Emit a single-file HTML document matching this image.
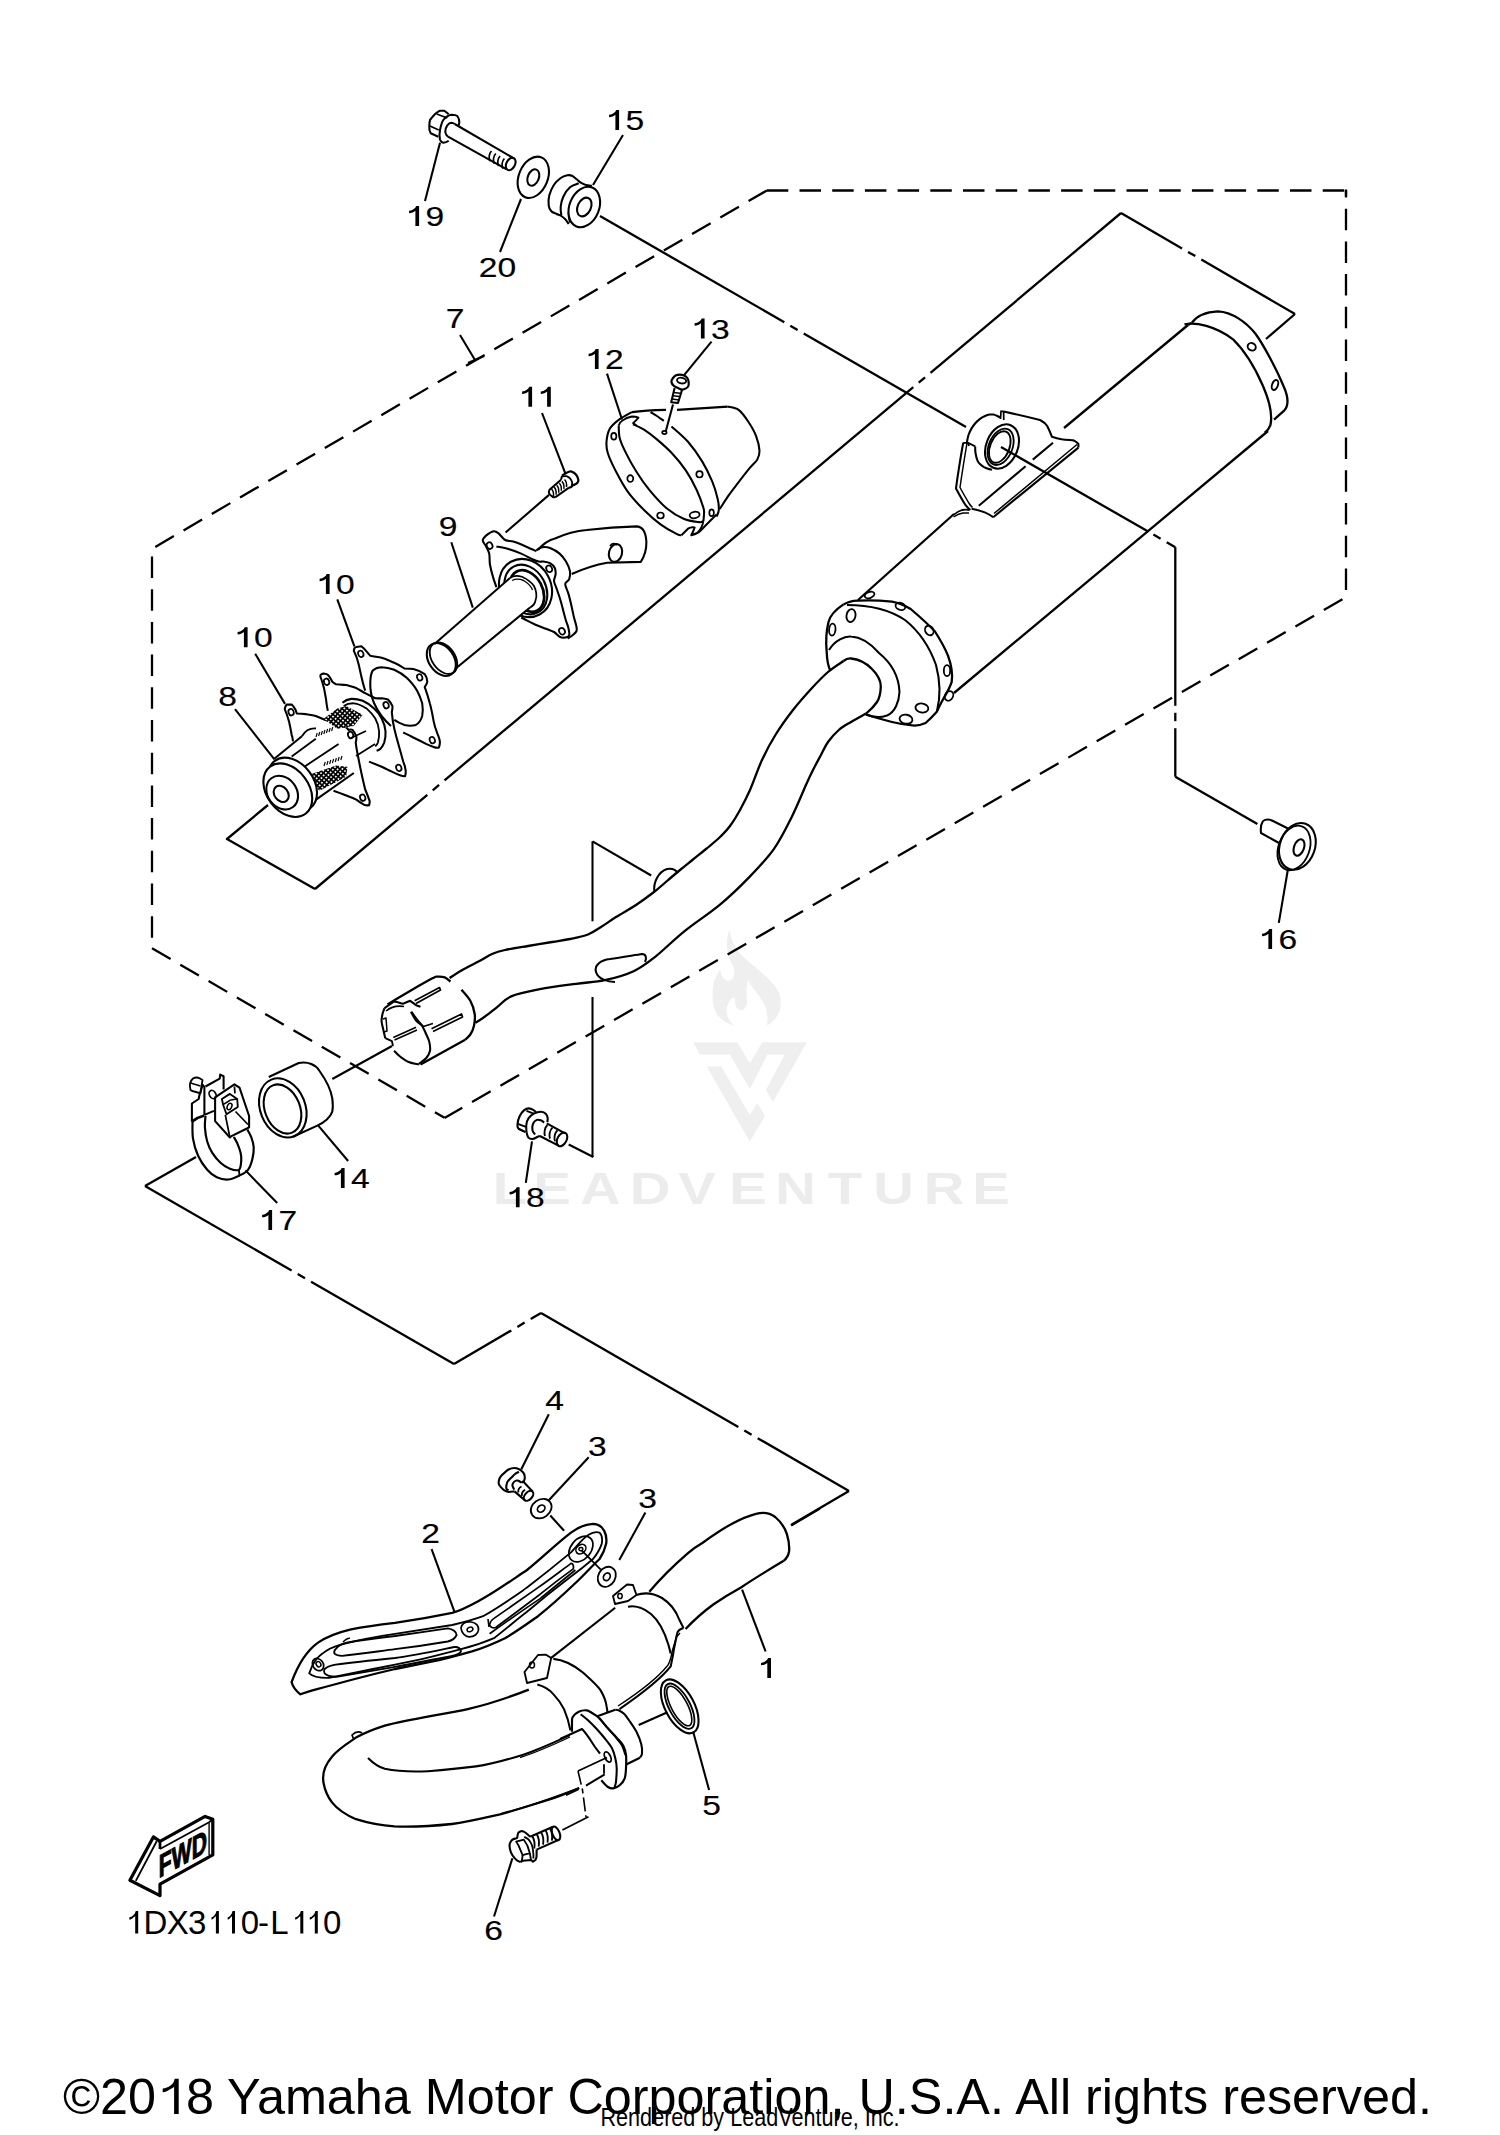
<!DOCTYPE html>
<html><head><meta charset="utf-8"><style>
html,body{margin:0;padding:0;background:#fff;}
svg{display:block;}
</style></head><body>
<svg width="1500" height="2135" viewBox="0 0 1500 2135">
<defs><pattern id="mesh" width="3.4" height="3.4" patternUnits="userSpaceOnUse" patternTransform="rotate(40)"><rect width="3.4" height="3.4" fill="#000"/><rect x="0.9" y="0.9" width="1.7" height="1.7" fill="#fff"/></pattern></defs>
<rect width="1500" height="2135" fill="#fff"/>
<g font-family="Liberation Sans, sans-serif" stroke="none">
<text transform="translate(510.0 1203.8) scale(1.28 1)" text-anchor="middle" font-size="44" font-weight="bold" fill="#ececec">L</text>
<text transform="translate(552.0 1203.8) scale(1.28 1)" text-anchor="middle" font-size="44" font-weight="bold" fill="#ececec">E</text>
<text transform="translate(600.2 1203.8) scale(1.28 1)" text-anchor="middle" font-size="44" font-weight="bold" fill="#ececec">A</text>
<text transform="translate(650.1 1203.8) scale(1.28 1)" text-anchor="middle" font-size="44" font-weight="bold" fill="#ececec">D</text>
<text transform="translate(697.0 1203.8) scale(1.28 1)" text-anchor="middle" font-size="44" font-weight="bold" fill="#ececec">V</text>
<text transform="translate(748.1 1203.8) scale(1.28 1)" text-anchor="middle" font-size="44" font-weight="bold" fill="#ececec">E</text>
<text transform="translate(795.6 1203.8) scale(1.28 1)" text-anchor="middle" font-size="44" font-weight="bold" fill="#ececec">N</text>
<text transform="translate(844.9 1203.8) scale(1.28 1)" text-anchor="middle" font-size="44" font-weight="bold" fill="#ececec">T</text>
<text transform="translate(893.6 1203.8) scale(1.28 1)" text-anchor="middle" font-size="44" font-weight="bold" fill="#ececec">U</text>
<text transform="translate(944.0 1203.8) scale(1.28 1)" text-anchor="middle" font-size="44" font-weight="bold" fill="#ececec">R</text>
<text transform="translate(991.1 1203.8) scale(1.28 1)" text-anchor="middle" font-size="44" font-weight="bold" fill="#ececec">E</text>
<path d="M693.2,1042.2 L737.4,1042.2 L749.8,1063.2 L762.2,1042.2 L806.8,1042.2 L772.9,1102 L765.9,1090.1 L784.8,1054.6 L767.5,1054.6 L749.8,1089.1 L729.8,1054.6 L699.7,1054.6 Z" fill="#efefef"/>
<path d="M706.7,1066.5 L721.2,1066.5 L749.8,1114.9 L757.3,1103.1 L764.8,1116 L749.8,1141.8 Z" fill="#efefef"/>
<path d="M729.3,930.2 C731,936 732,941 734.2,944.8 C736.5,949 739,952.5 741.7,955.5 C746.5,960 751.5,964 756.8,968.5 C762,973 767.5,977.5 771.8,982.5 C776.5,988 780,993 780.5,998.6 C781,1003.5 780.8,1007.5 779.4,1011.5 C778,1015 776,1017.8 774,1020.2 C771.5,1022.5 769,1024.5 766.5,1026.1 C767.3,1023 767.8,1020 767.5,1016.9 C767.2,1013.3 766.5,1009.7 765.4,1006.2 C763.5,1002.5 761.3,998.8 758.9,995.4 C756,991.8 753,988.2 750.3,984.6 C749.5,983 748.8,981.4 748.2,979.8 C747.2,983 746.7,986.5 746.5,990 C746.4,994.3 746.8,998.6 747.1,1002.9 C746.5,1005.5 745.3,1007.8 743.8,1009.4 C742,1010.2 740.2,1010.2 738.5,1009.4 C736.8,1008 735.7,1006 735.2,1004 C734.8,1001.5 734.6,999 734.7,996.5 C732.8,997.5 731.1,999 729.8,1000.8 C727.8,1003.8 726.8,1007 726.6,1010.5 C726.6,1013.5 727.4,1016.4 728.8,1019.1 C730.3,1021.5 732.2,1023.6 734.2,1025.5 C731.2,1024.7 728.3,1023.6 725.5,1022.3 C722.2,1020.2 719.3,1017.7 716.9,1014.8 C714.6,1010.2 713,1005 712.6,999.7 C712.3,994 712.8,988.2 713.7,982.5 C715.2,977.8 717.4,973.4 720.2,969.5 C720.6,972.2 721.3,974.8 722.3,977.1 C724,979.2 725.8,980.6 727.7,980.8 C729.8,980.8 731.6,979.8 733.1,978.2 C734.2,975.5 734.6,972.5 734.2,969.5 C733.2,966 731.6,962.8 729.8,959.8 C728.5,956.3 727.7,952.7 727.2,949.1 C726.9,945.5 726.9,941.9 727.2,938.3 C727.7,935.5 728.4,932.8 729.3,930.2 Z" fill="#efefef"/>
</g>
<g fill="none" stroke="#000" stroke-linecap="butt" stroke-linejoin="round">
<polyline points="766.8,190.5 1346,190.5" stroke-width="2.30" stroke-dasharray="21.5 11.2" stroke-dashoffset="0"/>
<polyline points="1346,190.5 1346,597.5" stroke-width="2.30" stroke-dasharray="21.5 11.2" stroke-dashoffset="14.5"/>
<line x1="1346" y1="189.5" x2="1346" y2="196" stroke-width="2.30"/>
<polyline points="1346,597.2 444.5,1118" stroke-width="2.30" stroke-dasharray="21.5 11.29" stroke-dashoffset="28.7"/>
<polyline points="152,948.3 444.5,1117.8" stroke-width="2.30" stroke-dasharray="21.5 11.2" stroke-dashoffset="0"/>
<polyline points="152,548.8 152,948.3" stroke-width="2.30" stroke-dasharray="21.5 11.2" stroke-dashoffset="25"/>
<polyline points="152,548.8 766.8,190.5" stroke-width="2.30" stroke-dasharray="21.5 11.2" stroke-dashoffset="28.9"/>
<polyline points="268,805 227,839 315,889" stroke-width="2.30"/>
<line x1="315.0" y1="889.0" x2="427.3" y2="794.8" stroke-width="2.30"/>
<line x1="432.7" y1="790.3" x2="439.1" y2="784.9" stroke-width="2.30"/>
<line x1="444.5" y1="780.4" x2="913.3" y2="387.2" stroke-width="2.30"/>
<line x1="918.7" y1="382.7" x2="925.1" y2="377.3" stroke-width="2.30"/>
<line x1="930.5" y1="372.8" x2="1121.0" y2="213.0" stroke-width="2.30"/>
<line x1="1121.0" y1="213.0" x2="1182.0" y2="248.4" stroke-width="2.30"/>
<line x1="1188.0" y1="251.9" x2="1195.3" y2="256.1" stroke-width="2.30"/>
<line x1="1201.3" y1="259.6" x2="1295.0" y2="314.0" stroke-width="2.30"/>
<line x1="1295" y1="314" x2="1266" y2="339" stroke-width="2.30"/>
<line x1="460" y1="335" x2="475" y2="360" stroke-width="2.07"/>
<line x1="468" y1="363" x2="484" y2="356" stroke-width="2.07"/>
<line x1="196" y1="1157" x2="145" y2="1186" stroke-width="2.30"/>
<line x1="145.0" y1="1186.0" x2="291.6" y2="1270.5" stroke-width="2.30"/>
<line x1="297.7" y1="1274.0" x2="305.0" y2="1278.2" stroke-width="2.30"/>
<line x1="311.1" y1="1281.7" x2="454.0" y2="1364.0" stroke-width="2.30"/>
<line x1="454.0" y1="1364.0" x2="511.3" y2="1330.4" stroke-width="2.30"/>
<line x1="517.4" y1="1326.9" x2="524.6" y2="1322.6" stroke-width="2.30"/>
<line x1="530.7" y1="1319.1" x2="541.0" y2="1313.0" stroke-width="2.30"/>
<line x1="541.0" y1="1313.0" x2="738.3" y2="1427.0" stroke-width="2.30"/>
<line x1="744.3" y1="1430.5" x2="751.6" y2="1434.7" stroke-width="2.30"/>
<line x1="757.7" y1="1438.2" x2="849.0" y2="1491.0" stroke-width="2.30"/>
<line x1="849" y1="1491" x2="791" y2="1525" stroke-width="2.30"/>
<line x1="1188" y1="325" x2="1064" y2="428" stroke-width="2.30"/>
<line x1="954" y1="514" x2="858" y2="600" stroke-width="2.30"/>
<line x1="1268" y1="431" x2="954" y2="693" stroke-width="2.30"/>
<path d="M1184.5,324.4 C1196,322 1215,326 1233,339.3 C1246,352 1256,370 1263,386 C1269,400 1273,414 1270.4,425.2 C1269,429 1267,431 1264.8,432.7" stroke-width="2.30" fill="none"/>
<path d="M1192,322.5 C1196,317 1205,312 1218,311.3 C1232,312 1246,322 1255.5,333.7 C1263,344 1276,368 1283.5,386 C1288,396 1289,405 1284.4,410.3 L1274,419.6" stroke-width="2.30" fill="none"/>
<path d="M1188,325 C1190,323.5 1192,322.8 1192,322.5" stroke-width="2.30" fill="none"/>
<ellipse cx="1251.7" cy="346.8" rx="4.2" ry="3.6" transform="rotate(30 1251.7 346.8)" stroke-width="1.95" fill="none"/>
<ellipse cx="1275" cy="385" rx="2.9" ry="5.2" transform="rotate(20 1275 385)" stroke-width="1.95" fill="none"/>
<path d="M843.5,604.4 C850,601 855,600.5 858.4,600.7 C870,600 880,600.5 892,601.6 C900,603 906,606 910.7,609 C920,617 928,624 935,631.5 C941,641 945,648 948,655.7 C951,664 953,673 951.7,681.9 C949,690 945,696 942.4,700.5 C940,705 938,709 936.8,711.7 C932,717 929,720 925.6,723 C921,725 918,725.7 914.4,725.7 C905,725 898,723.5 892,722 C880,719 872,716.5 865.9,714.5" stroke-width="2.30" fill="none"/>
<path d="M843.5,604.4 C835,610 830,616 828.5,622 C826,632 826,645 826.7,652 C827,660 828,666 830.4,670.7" stroke-width="2.30" fill="none"/>
<path d="M847,605 C870,605 890,610 905,620 C920,632 930,648 936,665 C940,680 941,695 937,711" stroke-width="2.07" fill="none"/>
<path d="M829,650 C835,640 845,636 851,636.5 C862,637 872,645 879,653 C895,666 899,680 899.5,692 C899,702 895,712 887,715.5 C880,718 872,717 865.9,714.5" stroke-width="2.07" fill="none"/>
<ellipse cx="869.6" cy="595" rx="5" ry="3" transform="rotate(-20 869.6 595)" stroke-width="1.84" fill="none"/>
<ellipse cx="900.4" cy="606.3" rx="5" ry="3.5" transform="rotate(20 900.4 606.3)" stroke-width="1.84" fill="none"/>
<ellipse cx="929.3" cy="630.5" rx="4" ry="5" transform="rotate(-30 929.3 630.5)" stroke-width="1.84" fill="none"/>
<ellipse cx="947" cy="670.7" rx="3.2" ry="5.5" transform="rotate(0 947 670.7)" stroke-width="1.84" fill="none"/>
<ellipse cx="949" cy="695.9" rx="4" ry="5" transform="rotate(30 949 695.9)" stroke-width="1.84" fill="none"/>
<ellipse cx="921.9" cy="708" rx="6.5" ry="4.5" transform="rotate(10 921.9 708)" stroke-width="1.84" fill="none"/>
<ellipse cx="906" cy="719.2" rx="6.5" ry="4.5" transform="rotate(10 906 719.2)" stroke-width="1.84" fill="none"/>
<ellipse cx="851" cy="615.6" rx="4.5" ry="6.5" transform="rotate(10 851 615.6)" stroke-width="1.84" fill="none"/>
<ellipse cx="832.3" cy="629.6" rx="3.2" ry="6" transform="rotate(5 832.3 629.6)" stroke-width="1.84" fill="none"/>
<path d="M966.8,442.8 C967.1,441.5 967.7,437.4 968.5,435.0 C969.3,432.6 970.4,430.4 971.6,428.4 C972.8,426.4 974.1,424.6 975.5,423.0 C976.9,421.4 978.4,420.0 980.0,418.8 C981.6,417.6 983.4,416.7 985.0,416.0 C986.6,415.3 988.2,414.8 989.6,414.6 C991.0,414.4 992.3,414.4 993.5,414.6 C994.7,414.8 995.7,415.3 996.8,415.8 C997.9,416.3 999.5,417.2 1000.0,417.5" stroke-width="2.07" fill="none"/>
<path d="M975.2,446.4 C975.2,447.5 975.1,450.6 975.5,453.0 C975.9,455.4 976.8,458.9 977.6,460.8 C978.4,462.7 979.5,463.5 980.5,464.5 C981.5,465.5 982.4,466.1 983.6,466.8 C984.9,467.5 986.6,468.3 988.0,468.8 C989.4,469.3 991.3,469.6 992.0,469.8" stroke-width="2.07" fill="none"/>
<line x1="968" y1="442.8" x2="975.2" y2="446.4" stroke-width="1.84"/>
<ellipse cx="1002" cy="446.5" rx="15.8" ry="23" transform="rotate(22 1002 446.5)" stroke-width="2.07" fill="none"/>
<ellipse cx="1000.6" cy="446.8" rx="11.8" ry="19" transform="rotate(22 1000.6 446.8)" stroke-width="1.84" fill="none"/>
<ellipse cx="999.8" cy="447" rx="9.6" ry="16.5" transform="rotate(22 999.8 447)" stroke-width="1.84" fill="none"/>
<path d="M1000.5,419 L1001,411.2 L1003.6,411.5 L1003.8,420" stroke-width="1.72" fill="none"/>
<path d="M1003.6,411.5 C1015,414 1028,417 1040,420 C1043,421.5 1045.5,423.5 1047.2,426 C1049,429.5 1050.5,433 1052,436.8 C1055,437.8 1058,438.6 1061.6,439.2 C1065.5,439.7 1069.5,440 1073.6,440.4 C1075.5,441.3 1077.2,442.5 1078.4,444 L1078.4,447.6" stroke-width="2.07" fill="none"/>
<line x1="1078.4" y1="447.6" x2="993.2" y2="517.2" stroke-width="2.07"/>
<line x1="1077" y1="444.5" x2="994" y2="513.5" stroke-width="1.49"/>
<path d="M963.2,442.8 C960.5,458 958,473 956,488.4 C959,494 962,499.5 965.6,505.2 C967,507 968.5,508.5 970.4,510" stroke-width="2.07" fill="none"/>
<path d="M967,443 C964.5,458 962,473 960,487.5 C963,493 966,498.5 969.5,504 C970.5,505.5 971.5,506.5 972.5,507.5" stroke-width="1.49" fill="none"/>
<path d="M963.2,442.8 L968,442.8 L969,446" stroke-width="1.84" fill="none"/>
<path d="M993.2,517.2 C990,515 987.5,513.5 984.8,512.4 C980,510.5 976,509.5 971.6,508.8" stroke-width="2.07" fill="none"/>
<path d="M953.6,514.8 C956,512.5 959,511 962,510 C964.5,509.6 967,509.6 969.2,510" stroke-width="1.84" fill="none"/>
<path d="M953.6,517 C956.5,515 959.5,513.5 963,513 L969,513" stroke-width="1.38" fill="none"/>
<line x1="1032.8" y1="459.6" x2="1053" y2="442.8" stroke-width="2.07"/>
<line x1="978.8" y1="505.8" x2="1025.6" y2="466.2" stroke-width="2.07"/>
<line x1="600.0" y1="216.0" x2="784.3" y2="322.2" stroke-width="2.30"/>
<line x1="790.3" y1="325.7" x2="797.6" y2="329.9" stroke-width="2.30"/>
<line x1="803.7" y1="333.4" x2="966.0" y2="427.0" stroke-width="2.30"/>
<line x1="1001.0" y1="447.0" x2="1147.3" y2="531.1" stroke-width="2.30"/>
<line x1="1153.4" y1="534.6" x2="1160.6" y2="538.8" stroke-width="2.30"/>
<line x1="1166.7" y1="542.3" x2="1175.3" y2="547.2" stroke-width="2.30"/>
<line x1="1175.3" y1="547.2" x2="1175.3" y2="705.8" stroke-width="2.30"/>
<line x1="1175.3" y1="712.8" x2="1175.3" y2="721.2" stroke-width="2.30"/>
<line x1="1175.3" y1="728.2" x2="1175.3" y2="776.7" stroke-width="2.30"/>
<line x1="1175.3" y1="776.7" x2="1257.4" y2="823.9" stroke-width="2.30"/>
<path d="M843.5,661 C846,659 848.5,658.3 851,658.5 C858,659 866,663 872,669 C878,675 881,681 880.8,687 C880.5,694 879,699 877,702 C873,708 869,711 865.9,713.6" stroke-width="2.30" fill="none"/>
<path d="M843.5,661.0 C840.9,662.8 833.2,667.5 828.0,672.0 C822.8,676.5 817.8,681.7 812.0,688.0 C806.2,694.3 799.0,702.3 793.0,710.0 C787.0,717.7 781.2,725.7 776.0,734.0 C770.8,742.3 766.3,750.7 762.0,760.0 C757.7,769.3 753.7,781.7 750.0,790.0 C746.3,798.3 743.3,804.0 740.0,810.0 C736.7,816.0 733.5,821.3 730.0,826.0 C726.5,830.7 723.0,834.2 719.0,838.0 C715.0,841.8 710.3,845.4 706.0,849.0 C701.7,852.6 697.3,856.0 693.0,859.5 C688.7,863.0 684.3,866.4 680.0,870.0 C675.7,873.6 671.3,877.3 667.0,881.0 C662.7,884.7 659.2,888.0 654.0,892.0 C648.8,896.0 642.3,900.8 636.0,905.0 C629.7,909.2 621.8,913.3 616.0,917.0 C610.2,920.7 605.7,924.1 601.0,927.0 C596.3,929.9 593.2,932.5 588.0,934.5 C582.8,936.5 576.0,937.8 570.0,939.0 C564.0,940.2 559.0,940.8 552.0,942.0 C545.0,943.2 535.8,944.7 528.0,946.0 C520.2,947.3 511.0,948.7 505.0,950.0 C499.0,951.3 496.2,952.2 492.0,954.0 C487.8,955.8 484.2,958.5 479.5,961.0 C474.8,963.5 469.0,966.2 464.0,969.0 C459.0,971.8 452.0,976.5 449.6,978.0" stroke-width="2.30" fill="none"/>
<path d="M865.9,713.6 C863.4,715.0 855.5,719.3 851.0,722.0 C846.5,724.7 842.6,726.7 838.8,730.0 C835.0,733.3 831.0,737.8 828.0,742.0 C825.0,746.2 823.3,750.5 820.8,755.2 C818.3,759.9 815.4,765.2 813.0,770.0 C810.6,774.8 809.9,776.3 806.4,784.0 C802.9,791.7 797.4,805.6 792.0,816.4 C786.6,827.2 781.2,838.6 774.0,848.8 C766.8,859.0 757.8,868.3 748.8,877.6 C739.8,886.9 730.8,895.6 720.0,904.6 C709.2,913.6 694.8,922.9 684.0,931.6 C673.2,940.3 663.6,950.2 655.2,956.8 C646.8,963.4 642.0,967.3 633.6,971.2 C625.2,975.1 614.4,978.1 604.8,980.2 C595.2,982.3 586.8,982.3 576.0,983.8 C565.2,985.3 550.8,987.1 540.0,989.2 C529.2,991.3 518.5,993.3 511.2,996.4 C503.9,999.5 500.9,1004.4 496.5,1007.7 C492.1,1011.1 488.5,1014.0 485.0,1016.5 C481.5,1019.0 477.1,1021.8 475.5,1022.8" stroke-width="2.30" fill="none"/>
<path d="M654.4,892 C653,883 658,872 667,869 C672,868 676,870 678,873" stroke-width="2.07" fill="none"/>
<path d="M615,982 C608,982 598,979 596,972 C594,965 601,960 610,959 C622,957 636,955 642,954 C646,954 647,958 645,962" stroke-width="2.07" fill="none"/>
<line x1="592.5" y1="841.3" x2="592.5" y2="921.3" stroke-width="2.07"/>
<line x1="592.5" y1="841.3" x2="651.2" y2="875.5" stroke-width="2.07"/>
<line x1="592.5" y1="997" x2="592.5" y2="1157" stroke-width="2.07"/>
<line x1="568.7" y1="1144.5" x2="593.3" y2="1157" stroke-width="2.07"/>
<path d="M387.5,1004.5 C391.2,1002.2 402.4,995.4 410.0,991.0 C417.6,986.6 428.3,980.5 432.9,978.1 C437.4,975.7 435.3,976.7 437.3,976.6 C439.3,976.5 442.5,976.5 444.7,977.3 C446.9,978.1 449.5,980.8 450.5,981.5" stroke-width="2.30" fill="none"/>
<path d="M461.5,989.8 C463.0,991.6 468.1,996.8 470.3,1000.8 C472.5,1004.8 474.1,1009.9 474.7,1014.0 C475.3,1018.1 474.7,1022.3 474.0,1025.7 C473.3,1029.1 471.8,1032.2 470.3,1034.5 C468.8,1036.8 466.1,1038.8 465.2,1039.7" stroke-width="2.30" fill="none"/>
<line x1="465.2" y1="1039.7" x2="420.5" y2="1064.6" stroke-width="2.30"/>
<path d="M384.5,1008.1 C384.2,1009.1 383.0,1011.8 382.5,1014.0 C382.0,1016.2 381.5,1018.8 381.6,1021.3 C381.7,1023.8 382.5,1025.9 383.1,1028.7 C383.7,1031.5 384.9,1036.6 385.3,1038.2" stroke-width="2.07" fill="none"/>
<path d="M385.3,1038.2 L391.9,1041.1 L393,1046" stroke-width="1.84" fill="none"/>
<path d="M394.1,1050.7 C395.0,1051.5 396.9,1054.0 399.2,1055.8 C401.5,1057.6 404.7,1060.2 408.0,1061.7 C411.3,1063.2 417.2,1064.1 419.0,1064.6" stroke-width="2.07" fill="none"/>
<path d="M410.9,1011.8 C411.8,1013.3 414.3,1018.3 416.1,1020.6 C417.9,1022.9 420.2,1023.4 421.9,1025.7 C423.6,1028.0 425.1,1031.8 426.3,1034.5 C427.5,1037.2 428.7,1039.2 429.3,1041.9 C429.9,1044.6 430.5,1048.0 430.0,1050.7 C429.5,1053.4 428.1,1055.8 426.3,1058.0 C424.5,1060.2 420.2,1062.9 419.0,1063.9" stroke-width="2.07" fill="none"/>
<path d="M384.5,1008.1 L394.1,1001.5 C398,1002 400,1003 402.9,1003.7 L410.2,1000.8 L416.1,1005.2 L420.5,1006.7" stroke-width="2.07" fill="none"/>
<path d="M386,1011 C392,1006 398,1005.5 404,1006.5" stroke-width="1.61" fill="none"/>
<path d="M414.6,1000.8 L439.5,987.6 L440.5,990 L416,1003.5" stroke-width="1.72" fill="none"/>
<path d="M431.5,1028.7 L461.5,1014 L462.5,1017 L433,1031.5" stroke-width="1.72" fill="none"/>
<path d="M393.3,1037.5 L416.1,1027.2 M394.5,1040 L417,1030" stroke-width="1.61" fill="none"/>
<path d="M411.7,1011.8 C415,1017 419,1022 423.4,1026.5 L432.9,1023.5" stroke-width="1.72" fill="none"/>
<path d="M383,1019 L386,1018 L387,1031 L384,1032" stroke-width="1.49" fill="none"/>
<line x1="392" y1="1046" x2="332.3" y2="1079" stroke-width="2.07"/>
<path d="M438.3,136.7 L430.7,133.3 C429.5,131 429,129 429.3,126.7 C429.3,124 429.5,122 430,120 C432,117.5 434,115 436,113.3 C437.5,112 439,111 440,110.7 L444,110.7 C445.8,111.8 447.3,113 448.7,114.3" stroke-width="2.07" fill="none"/>
<line x1="436.7" y1="114" x2="447.3" y2="118" stroke-width="1.84"/>
<line x1="430" y1="126" x2="438.7" y2="130" stroke-width="1.84"/>
<path d="M440,140 C441,141.8 442,142.6 443.3,142.7 C445.5,142.6 447.3,141.8 448.7,140.7" stroke-width="2.07" fill="none"/>
<path d="M440,140 C439,136 439.5,132.5 440,130 C441,125 442,122 443.3,120 C444.8,117.8 446.3,116.5 448,116 C449.5,115 450.8,114.7 452,114.7 C454.5,114.8 456.3,115.2 457.3,116 C458.8,118 459.3,120 459.3,122 C459.3,123.3 459,124.5 458.7,125.3" stroke-width="2.07" fill="none"/>
<path d="M448,136.7 C446.5,135.5 445.5,134 445.3,132 C445.3,129.5 446,127 447.3,125.3 C448.6,123.7 450,122.8 451.3,122.7 C452.5,122.7 453.8,123.2 454.7,124" stroke-width="2.07" fill="none"/>
<line x1="454.7" y1="124" x2="514" y2="158.5" stroke-width="2.07"/>
<line x1="448" y1="136.7" x2="506.7" y2="169.3" stroke-width="2.07"/>
<ellipse cx="510.7" cy="164" rx="4.3" ry="6.6" transform="rotate(28 510.7 164)" stroke-width="2.07" fill="none"/>
<path d="M491.5,151.0 C488.9,153.5 488.5,158.5 490.0,161.0" stroke-width="1.72" fill="none"/>
<path d="M495.8,153.5 C493.2,156.0 492.8,161.0 494.3,163.5" stroke-width="1.72" fill="none"/>
<path d="M500.1,156.0 C497.5,158.5 497.1,163.5 498.6,166.0" stroke-width="1.72" fill="none"/>
<path d="M504.4,158.5 C501.79999999999995,161.0 501.4,166.0 502.9,168.5" stroke-width="1.72" fill="none"/>
<ellipse cx="533.3" cy="177.3" rx="14.5" ry="21.5" transform="rotate(22 533.3 177.3)" stroke-width="2.07" fill="none"/>
<ellipse cx="533.3" cy="177.5" rx="5.5" ry="8.5" transform="rotate(22 533.3 177.5)" stroke-width="2.07" fill="none"/>
<path d="M568.7,224.0 C568.1,223.2 566.5,220.6 565.3,219.3 C564.1,218.0 562.7,216.9 561.3,216.0 C559.9,215.1 558.4,214.8 556.7,214.0 C555.0,213.2 552.6,212.8 551.3,211.3 C550.0,209.9 549.0,208.0 548.7,205.3 C548.4,202.6 548.4,198.7 549.3,195.3 C550.2,191.9 552.1,187.6 554.0,184.7 C555.9,181.8 558.5,179.6 560.7,178.0 C562.9,176.4 565.4,175.7 567.3,175.3 C569.2,174.9 570.4,175.0 572.0,175.7 C573.6,176.4 575.2,178.1 576.7,179.3 C578.2,180.5 579.3,181.8 580.7,182.7 C582.1,183.6 583.4,184.1 585.3,184.7 C587.2,185.2 590.9,185.8 592.0,186.0" stroke-width="2.07" fill="none"/>
<path d="M578.7,183.3 C577.2,184.0 572.6,185.1 570.0,187.3 C567.4,189.5 564.8,193.5 563.3,196.7 C561.8,199.9 561.0,203.6 560.7,206.7 C560.4,209.8 561.2,213.9 561.3,215.3" stroke-width="2.07" fill="none"/>
<path d="M588.0,187.3 C586.3,188.2 580.8,190.2 578.0,192.7 C575.2,195.1 572.8,198.6 571.3,202.0 C569.8,205.4 568.9,209.9 568.7,213.3 C568.5,216.8 569.8,221.1 570.0,222.7" stroke-width="2.07" fill="none"/>
<ellipse cx="584.3" cy="207" rx="14.8" ry="21" transform="rotate(22 584.3 207)" stroke-width="2.07" fill="#fff"/>
<ellipse cx="584.3" cy="207" rx="6.6" ry="9.8" transform="rotate(25 584.3 207)" stroke-width="2.07" fill="none"/>
<line x1="440" y1="142.7" x2="425" y2="201" stroke-width="2.07"/>
<line x1="521" y1="199" x2="500" y2="252" stroke-width="2.07"/>
<line x1="623" y1="135" x2="593" y2="185" stroke-width="2.07"/>
<path d="M631.9,412.1 C645,410.5 655,410.2 666,409.9 M677,409.9 L727.6,406.6" stroke-width="2.07" fill="none"/>
<path d="M727.6,406.6 C729.4,407.2 735.1,407.3 738.6,409.9 C742.1,412.5 745.6,417.6 748.5,422.0 C751.4,426.4 754.4,431.5 756.2,436.3 C758.0,441.1 759.3,446.8 759.5,450.6 C759.7,454.5 758.9,456.5 757.3,459.4 C755.6,462.3 752.9,464.2 749.6,468.2 C746.3,472.2 741.2,478.8 737.5,483.6 C733.8,488.4 730.5,492.6 727.6,496.8 C724.7,501.0 721.2,506.9 719.9,508.9" stroke-width="2.07" fill="none"/>
<path d="M631.9,412.1 C629.7,413.4 622.4,417.1 618.7,419.8 C615.0,422.6 611.9,425.1 609.9,428.6 C607.9,432.1 607.0,436.7 606.6,440.7 C606.2,444.7 606.2,447.9 607.7,452.8 C609.2,457.8 612.1,464.0 615.4,470.4 C618.7,476.8 622.7,484.7 627.5,491.3 C632.3,497.9 638.5,504.5 644.0,510.0 C649.5,515.5 655.0,520.3 660.5,524.3 C666.0,528.3 673.5,532.4 677.0,534.2 C680.5,536.0 680.7,535.1 681.4,535.3" stroke-width="2.07" fill="none"/>
<path d="M681.4,535.3 L688,528.7 C690,527.5 692.5,527 694.6,527.6 C694,530 692.5,533 691.3,535.3 C694,534.5 696.5,533.5 699,532 C703,528.5 706.5,524.5 710,521 C712.3,518.8 714.5,516.5 716.6,514.4" stroke-width="2.07" fill="none"/>
<path d="M618.7,425.3 C618.9,427.5 618.5,433.7 619.8,438.5 C621.1,443.3 623.6,448.4 626.4,453.9 C629.1,459.4 632.4,465.4 636.3,471.5 C640.1,477.6 644.5,484.1 649.5,490.2 C654.5,496.2 660.3,503.0 666.0,507.8 C671.7,512.6 678.1,516.4 683.6,518.8 C689.1,521.2 695.7,521.7 699.0,522.1 C702.3,522.5 702.7,521.2 703.4,521.0" stroke-width="2.07" fill="none"/>
<path d="M703.4,521.0 C703.5,519.8 704.0,516.2 704.0,514.0 C704.0,511.8 704.6,511.8 703.4,507.8 C702.2,503.8 699.7,496.4 696.8,490.2 C693.9,484.0 690.0,476.6 685.8,470.4 C681.6,464.2 676.3,457.9 671.5,452.8 C666.7,447.7 661.8,443.5 657.2,439.6 C652.6,435.8 648.0,432.3 644.0,429.7 C640.0,427.1 634.8,425.1 633.0,424.2" stroke-width="2.07" fill="none"/>
<path d="M618.7,425.3 C620,422 621,421.5 622,420.9 C625,418.5 628.5,417 631.9,416.5 C634,416.5 636.5,416.8 638.5,417.6 C637,419.5 635,421.5 633,423.1 L636.3,425.3" stroke-width="1.84" fill="none"/>
<path d="M650.6,412.1 C651.7,412.8 654.8,414.5 657.0,416.0 C659.2,417.5 662.7,420.1 663.8,420.9" stroke-width="2.07" fill="none"/>
<path d="M671.5,426.4 C674.2,429.0 682.9,435.9 688.0,441.8 C693.1,447.7 698.3,455.0 702.3,461.6 C706.3,468.2 709.6,475.2 712.2,481.4 C714.8,487.6 716.6,494.2 717.7,499.0 C718.8,503.8 719.0,507.1 718.8,510.0 C718.6,512.9 717.0,515.5 716.6,516.6" stroke-width="2.07" fill="none"/>
<path d="M703.4,521 C703,523.5 702.2,525.7 701.2,527.6 C700.3,529.3 699.2,530.8 697.9,532" stroke-width="1.84" fill="none"/>
<ellipse cx="613.8" cy="436.3" rx="2.6" ry="3.4" transform="rotate(0 613.8 436.3)" stroke-width="1.72" fill="none"/>
<ellipse cx="630.3" cy="478.6" rx="3" ry="3.4" transform="rotate(0 630.3 478.6)" stroke-width="1.72" fill="none"/>
<ellipse cx="660.5" cy="515.5" rx="3.3" ry="3" transform="rotate(0 660.5 515.5)" stroke-width="1.72" fill="none"/>
<ellipse cx="694.6" cy="515" rx="5" ry="3.2" transform="rotate(-10 694.6 515)" stroke-width="1.72" fill="none"/>
<ellipse cx="711.6" cy="512.7" rx="2.3" ry="3.4" transform="rotate(0 711.6 512.7)" stroke-width="1.72" fill="none"/>
<ellipse cx="699.5" cy="474.3" rx="3.2" ry="3.2" transform="rotate(0 699.5 474.3)" stroke-width="1.72" fill="none"/>
<ellipse cx="664.4" cy="432.5" rx="2.2" ry="1.6" transform="rotate(0 664.4 432.5)" stroke-width="1.72" fill="none"/>
<path d="M671.4,382.0 C671.2,380.7 672.2,379.1 673.0,378.0 C673.8,376.9 674.8,375.8 676.0,375.2 C677.2,374.6 678.7,374.6 680.0,374.6 C681.3,374.6 682.8,374.9 684.0,375.4 C685.2,375.9 686.2,376.6 687.0,377.6 C687.8,378.6 688.4,380.2 688.6,381.6 C688.8,383.0 688.8,384.9 688.4,386.0 C688.0,387.1 687.1,387.8 686.0,388.4 C684.9,389.0 683.3,389.7 682.0,389.6 C680.7,389.5 679.3,388.6 678.0,388.0 C676.7,387.4 675.1,387.0 674.0,386.0 C672.9,385.0 671.6,383.3 671.4,382.0 Z" stroke-width="2.18" fill="none"/>
<ellipse cx="681.6" cy="380.6" rx="4.6" ry="2.8" transform="rotate(10 681.6 380.6)" stroke-width="1.84" fill="none"/>
<path d="M674.6,388 L671.2,402.2 L678,403 L682,390" stroke-width="2.07" fill="none"/>
<line x1="673.5" y1="392.5" x2="680.2" y2="393.3" stroke-width="1.49"/>
<line x1="672.9" y1="395.8" x2="679.6" y2="396.6" stroke-width="1.49"/>
<line x1="672.3" y1="399.1" x2="679.0" y2="399.90000000000003" stroke-width="1.49"/>
<line x1="711.5" y1="341.6" x2="683.7" y2="375.7" stroke-width="2.07"/>
<line x1="673" y1="404.5" x2="665.6" y2="432" stroke-width="2.07"/>
<line x1="607" y1="373.6" x2="622" y2="419.5" stroke-width="2.07"/>
<path d="M562.1,475.7 C562.8,475.2 564.9,473.7 566.3,473.0 C567.7,472.3 569.2,471.5 570.3,471.4 C571.4,471.3 572.1,471.7 573.0,472.2 C573.9,472.7 574.9,473.4 575.7,474.3 C576.5,475.2 577.4,476.7 577.8,477.8 C578.2,478.9 578.5,480.0 578.3,481.0 C578.1,482.0 577.4,483.0 576.5,483.7 C575.6,484.4 574.0,484.7 573.0,485.3 C572.0,485.9 571.3,487.0 570.6,487.4 C569.9,487.8 569.3,487.6 569.0,487.7" stroke-width="2.18" fill="none"/>
<path d="M562.6,476.5 C563.2,476.4 565.2,476.0 566.3,476.2 C567.4,476.4 568.2,476.9 569.0,477.5 C569.8,478.1 570.6,479.0 571.1,479.9 C571.6,480.8 572.1,482.1 572.2,483.1 C572.3,484.1 571.8,485.4 571.7,485.8" stroke-width="1.84" fill="none"/>
<line x1="562.1" y1="475.7" x2="561" y2="479.7" stroke-width="1.95"/>
<line x1="561" y1="479.7" x2="549" y2="490.3" stroke-width="2.07"/>
<line x1="569" y1="487.7" x2="555.1" y2="497.3" stroke-width="2.07"/>
<path d="M549.0,490.3 C549.0,490.9 548.6,492.7 549.3,493.8 C550.0,494.9 552.0,496.4 553.0,497.0 C554.0,497.6 554.8,497.2 555.1,497.3" stroke-width="2.07" fill="none"/>
<path d="M551.5,489.0 C553.1,490.5 553.8,493.5 553.5,496.5" stroke-width="1.49" fill="none"/>
<path d="M554.1,487.1 C555.7,488.6 556.4,491.6 556.1,494.6" stroke-width="1.49" fill="none"/>
<path d="M556.7,485.2 C558.3000000000001,486.7 559.0,489.7 558.7,492.7" stroke-width="1.49" fill="none"/>
<path d="M559.3,483.3 C560.9,484.8 561.5999999999999,487.8 561.3,490.8" stroke-width="1.49" fill="none"/>
<path d="M561.9,481.4 C563.5,482.9 564.1999999999999,485.9 563.9,488.9" stroke-width="1.49" fill="none"/>
<path d="M564.5,479.5 C566.1,481.0 566.8,484.0 566.5,487.0" stroke-width="1.49" fill="none"/>
<line x1="542" y1="413" x2="565.5" y2="473.8" stroke-width="2.07"/>
<line x1="549" y1="494.9" x2="505.6" y2="532.5" stroke-width="2.07"/>
<path d="M538,549.7 C544,543 549,540 555,538.5 C565,534 575,531 586.7,530 C605,528 620,527 637,526.4 C643,527 646,533 646.4,542.3 C646.5,550 644,557 640.8,561.9 L607.2,562.8 C595,565 583,569 571.7,574" stroke-width="2.07" fill="none"/>
<ellipse cx="615.5" cy="553" rx="6.5" ry="9" transform="rotate(15 615.5 553)" stroke-width="2.07" fill="none"/>
<path d="M610,546 C612,543 615,543 617,545" stroke-width="1.61" fill="none"/>
<path d="M496.4,587.2 C495.9,585.6 494.3,581.3 493.2,577.6 C492.1,573.9 490.7,568.8 490.0,564.8 C489.3,560.8 489.9,556.7 489.2,553.6 C488.5,550.5 487.1,548.7 486.0,546.4 C484.9,544.1 482.5,542.0 482.8,540.0 C483.1,538.0 485.7,535.9 487.6,534.4 C489.5,532.9 492.1,531.3 494.0,531.2 C495.9,531.1 496.9,532.1 498.8,533.6 C500.7,535.1 502.8,538.7 505.2,540.0 C507.6,541.3 510.4,540.8 513.2,541.6 C516.0,542.4 519.1,543.6 522.0,544.8 C524.9,546.0 528.4,547.7 530.8,548.8 C533.2,549.9 535.5,550.8 536.4,551.2" stroke-width="2.07" fill="none"/>
<path d="M496.4,546.4 C498.3,546.8 503.5,547.6 507.6,548.8 C511.7,550.0 517.1,551.9 521.2,553.6 C525.3,555.3 529.5,557.9 532.4,559.2 C535.3,560.5 536.9,561.2 538.8,561.6 C540.7,562.0 541.7,561.3 543.6,561.6 C545.5,561.9 548.1,562.1 550.0,563.2 C551.9,564.3 553.9,566.1 554.8,568.0 C555.7,569.9 555.7,572.3 555.6,574.4 C555.5,576.5 553.9,578.5 554.0,580.8 C554.1,583.1 555.3,584.8 556.4,588.0 C557.5,591.2 559.2,596.0 560.4,600.0 C561.6,604.0 562.7,608.5 563.6,612.0 C564.5,615.5 565.2,618.1 566.0,620.8 C566.8,623.5 567.9,625.6 568.4,628.0 C568.9,630.4 569.7,633.6 569.2,635.2 C568.7,636.8 566.8,637.3 565.2,637.6 C563.6,637.9 561.5,637.7 559.6,636.8 C557.7,635.9 556.3,633.3 554.0,632.0 C551.7,630.7 549.3,630.1 546.0,628.8 C542.7,627.5 537.3,625.5 534.0,624.0 C530.7,622.5 528.1,621.1 526.0,620.0 C523.9,618.9 522.0,618.0 521.2,617.6" stroke-width="2.07" fill="none"/>
<path d="M536.4,550.4 C537.3,549.9 539.7,547.6 542.0,547.2 C544.3,546.8 547.1,546.9 550.0,548.0 C552.9,549.1 556.9,551.3 559.6,553.6 C562.3,555.9 564.3,558.7 566.0,561.6 C567.7,564.5 569.5,568.3 570.0,571.2 C570.5,574.1 570.0,577.1 569.2,579.2 C568.4,581.3 565.3,581.6 565.2,584.0 C565.1,586.4 567.3,589.9 568.4,593.6 C569.5,597.3 570.7,602.4 571.6,606.4 C572.5,610.4 573.2,614.3 574.0,617.6 C574.8,620.9 576.0,624.1 576.4,626.4 C576.8,628.7 577.2,629.6 576.4,631.2 C575.6,632.8 573.1,634.8 571.6,636.0 C570.1,637.2 568.3,638.0 567.6,638.4" stroke-width="2.07" fill="none"/>
<ellipse cx="489.6" cy="545.6" rx="2.8" ry="3.4" transform="rotate(-30 489.6 545.6)" stroke-width="1.72" fill="none"/>
<ellipse cx="549.2" cy="568.8" rx="2.8" ry="3.4" transform="rotate(-30 549.2 568.8)" stroke-width="1.72" fill="none"/>
<ellipse cx="562" cy="631.2" rx="2.8" ry="3.4" transform="rotate(-30 562 631.2)" stroke-width="1.72" fill="none"/>
<ellipse cx="525.5" cy="588" rx="25.5" ry="30" transform="rotate(-28 525.5 588)" stroke-width="2.07" fill="none"/>
<ellipse cx="525.8" cy="589.5" rx="20" ry="26" transform="rotate(-28 525.8 589.5)" stroke-width="2.07" fill="none"/>
<ellipse cx="527" cy="591" rx="15.5" ry="22" transform="rotate(-28 527 591)" stroke-width="2.76" fill="none"/>
<path d="M434.5,644 L510,578 C514,575 518,575.5 522,576.8 C527,579 531,582 534,586 C536,590 537,596 535.6,600 C535,604 533,606 530,607.5 L456,668.3 Z" fill="#fff" stroke="none"/>
<line x1="434.5" y1="644" x2="510" y2="578" stroke-width="2.07"/>
<line x1="456" y1="668.3" x2="530" y2="607.5" stroke-width="2.07"/>
<path d="M510,578 C514,575 518,575.5 522,576.8 C527,579 531,582 534,586 C536,590 537,596 535.6,600 C535,604 533,606 530,607.5" stroke-width="1.72" fill="none"/>
<path d="M512,580.5 C516,578.5 520,579 523.5,580.5 C528,583 531,586 532.5,590" stroke-width="1.38" fill="none"/>
<ellipse cx="441.3" cy="659.5" rx="12.5" ry="18" transform="rotate(-35 441.3 659.5)" stroke-width="2.07" fill="none"/>
<ellipse cx="443.5" cy="658.2" rx="11.5" ry="17.5" transform="rotate(-35 443.5 658.2)" stroke-width="1.84" fill="none"/>
<line x1="451.3" y1="542.3" x2="472.8" y2="607.6" stroke-width="2.07"/>
<path d="M365.2,690.7 C362.5,683 361,675 358.9,665.3 C357.5,659 356,655 353.8,650.8 C354,648.5 355,647 356.3,647 L361.4,646.3 C363.5,648 365,649.5 366.5,651.4 C368,653 369,654.5 370.3,655.8 C374,656.5 378,657 381.7,657.7 C386,659 390,661 394.3,662.8 C398,664.5 401.5,666.5 404.5,668.5 C407.5,668.5 410.5,668.5 413.3,669.1 C417,670 421,671.5 424.7,674.2 C426.5,676.5 427.3,679 427.3,681.8 C426.8,684 426,685.5 424.7,686.9 C426.5,692 428.3,697.5 429.8,703.3 C431.5,709 432.5,715 433.6,721.1 C434.5,726 436,730 437.4,733.7 C438.8,737 440,740 439.9,742.6 C439.8,745 439.3,746.5 438.7,747.7 C437,748 435.2,747.6 433.6,747 C431,746 428.5,745 426,743.9 C421.5,741.5 417.5,739.5 413.3,737.5 C410,735.5 406.5,734 403.2,732.5" stroke-width="2.07" fill="none"/>
<path d="M391,726 C384,720 378,712 374,703 C371,696 370,688 370.3,681.8 C370.5,676 371.5,672.5 372.8,670.4 C375.5,668 378.5,667.2 381.7,667.2 C386,667.3 390,668.2 394.3,669.8 C399,672 403,674.5 407,678 C411,682 414.5,686 417.1,690.7 C419.5,695 421,699 422.2,703.3 C423,708 423,712 422.2,716 C421,720 418.5,723.5 415.9,724.9 C412,726 408,725.8 404.5,724.9 C400.5,723.5 397,722 394.3,719.8" stroke-width="2.07" fill="none"/>
<ellipse cx="360.8" cy="653.9" rx="2.6" ry="3.3" transform="rotate(-20 360.8 653.9)" stroke-width="1.72" fill="none"/>
<ellipse cx="419.7" cy="677.4" rx="2.6" ry="3.3" transform="rotate(-20 419.7 677.4)" stroke-width="1.72" fill="none"/>
<ellipse cx="432.3" cy="740.1" rx="2.6" ry="3.3" transform="rotate(-20 432.3 740.1)" stroke-width="1.72" fill="none"/>
<path d="M327.8,710.9 C326.8,706 326.3,702 325.9,698.3 C325.2,695 324.7,691.5 324,688.1 C323,684.5 322,681 320.9,678 C320.2,676.5 320,675.5 321,674.5 C322,673.8 323.5,673.4 325,673.8 C326,674 327,674.3 327.8,674.8 C329.5,676.5 331,679 332.3,681.8 C333.5,683 334.8,683.8 336.1,684.3 C339.5,684.7 342.8,684.8 346.2,685 C349.5,686 353,687 356.3,688.1 C359.3,689.7 362.2,691.5 365.2,693.2 C368.5,695 372,696.8 375.3,698.3 C377.5,698.5 379.7,698.4 381.7,698.3 C384,698.6 386,699 388,699.5 C389.8,701.5 391.3,703.5 392.4,705.9 C392.6,708 392.3,710.3 391.8,712.2 C392.2,717.5 393,723 394.3,728.7 C395.8,735 397.6,741.5 399.4,747.7 C400.7,752.5 402,757 403.2,761.6 C404.5,764.5 405.3,767.5 405.7,770.5 C405.8,772.5 405.6,774.5 405.1,776.2 C403.6,776.3 402.1,776 400.7,775.5 C397.7,774.5 394.7,773.2 391.8,771.7 C388.5,770 385,768.3 381.7,766.7 C377.5,765 373.3,763.3 369,761.6" stroke-width="2.07" fill="none"/>
<ellipse cx="326.6" cy="681.8" rx="2.6" ry="3.3" transform="rotate(-20 326.6 681.8)" stroke-width="1.72" fill="none"/>
<ellipse cx="386.1" cy="705.2" rx="2.6" ry="3.3" transform="rotate(-20 386.1 705.2)" stroke-width="1.72" fill="none"/>
<ellipse cx="398.8" cy="767.9" rx="2.6" ry="3.3" transform="rotate(-20 398.8 767.9)" stroke-width="1.72" fill="none"/>
<path d="M342.4,702.7 C345,700.5 348,699.3 351.3,698.9 C355,698.7 359,699.5 362.7,700.8 C367,702.8 371,705.3 374.1,708.4 C377.5,711.5 380,715 381.7,718.5 C384,723 385.2,727 385.5,731.2 C385.8,735.5 385.3,739.3 384.2,742.6 C383,745.5 381.8,747.3 380.4,748.9 C379,750 377.8,750.5 376.6,750.8" stroke-width="2.07" fill="none"/>
<path d="M343.7,705.9 C346.5,704 350,703.2 353.8,703.3 C358,703.8 362.5,705.8 366.5,708.4 C370,711.5 373,715 375.3,718.5 C377.5,722.5 378.8,727 379.1,731.2 C379.3,735.5 378.9,739.3 377.9,742.6 C377.1,744.3 376.3,745.5 375.3,746.4" stroke-width="1.84" fill="none"/>
<path d="M293,741.3 C292.6,738 292.2,736 291.7,735 C290.9,730.5 290.1,726.3 289.2,722.3 C288,718 286.8,714 285.4,710.9 C285,709.8 284.8,709 284.8,708.4 C285.3,706.5 285.9,705.3 286.7,704.6 L291.7,704.6 C293.2,706 294.5,707.8 295.5,709.7 C296,711 296.4,712.3 296.8,713.5 C299.8,713.7 302.7,713.9 305.7,714.1 C309,714.7 312.5,715.3 315.8,716 C318.8,717.2 321.8,718.5 324.7,719.8 C328.5,721 332.3,722.3 336.1,723.6 C339.5,724.8 342.8,726.1 346.2,727.4 C347.3,728.3 348,729.2 348.5,729.9 C350,729.4 351.3,729.4 352.5,729.9 C354.2,731.8 355.5,734 356.3,736.3 C356.6,738.5 356.3,740.6 355.7,742.6 C356.2,746.3 356.8,750.2 357.6,754 C358.8,760.3 360,766.7 361.4,773 C362.6,778.5 363.8,784 365.2,789.5 C366.8,793.3 368.3,797 369.6,800.9 C369.8,802.6 369.5,804 369,805.3 C367.3,805.5 365.5,805.3 363.9,804.7 C361.3,803.2 358.8,801.5 356.3,799.6 C352.2,797.8 348,796.2 343.7,794.5 C340.3,793.2 337,792 333.5,790.7" stroke-width="2.07" fill="none"/>
<ellipse cx="291.1" cy="712.2" rx="2.6" ry="3.3" transform="rotate(-20 291.1 712.2)" stroke-width="1.72" fill="none"/>
<ellipse cx="350.6" cy="735" rx="2.6" ry="3.3" transform="rotate(-20 350.6 735)" stroke-width="1.72" fill="none"/>
<ellipse cx="362.7" cy="797.7" rx="2.6" ry="3.3" transform="rotate(-20 362.7 797.7)" stroke-width="1.72" fill="none"/>
<line x1="274" y1="759" x2="301.9" y2="736.3" stroke-width="2.07"/>
<line x1="310.7" y1="803.4" x2="353.8" y2="773" stroke-width="2.07"/>
<line x1="291.7" y1="756.5" x2="315.8" y2="738.8" stroke-width="1.84"/>
<line x1="304.4" y1="766.7" x2="338.6" y2="743.9" stroke-width="1.84"/>
<line x1="351" y1="738" x2="366" y2="731" stroke-width="1.72"/>
<line x1="356" y1="756" x2="375" y2="744" stroke-width="1.72"/>
<path d="M301.9,736.3 C305,731 310,728 316,728.5" stroke-width="1.84" fill="none"/>
<path d="M310.7,774.3 L336.1,765.4 L347.5,766.7 L346.2,776.8 L319.6,790.7 L313.3,785.7 Z" fill="url(#mesh)" stroke="none"/>
<path d="M324,718.5 L337.3,708.4 L346.2,705.9 L362.7,714.7 L353.8,726.1 L337.3,728.7 L329.7,723.6 Z" fill="url(#mesh)" stroke="none"/>
<line x1="316.0" y1="737.0" x2="317.2" y2="733.0" stroke-width="1.15"/>
<line x1="318.6" y1="736.0" x2="319.8" y2="732.0" stroke-width="1.15"/>
<line x1="321.2" y1="735.0" x2="322.4" y2="731.0" stroke-width="1.15"/>
<line x1="323.8" y1="734.0" x2="325.0" y2="730.0" stroke-width="1.15"/>
<line x1="326.4" y1="733.0" x2="327.59999999999997" y2="729.0" stroke-width="1.15"/>
<line x1="329.0" y1="732.0" x2="330.2" y2="728.0" stroke-width="1.15"/>
<line x1="331.6" y1="731.0" x2="332.8" y2="727.0" stroke-width="1.15"/>
<line x1="324.0" y1="766.0" x2="325.2" y2="762.0" stroke-width="1.15"/>
<line x1="326.8" y1="765.0" x2="328.0" y2="761.0" stroke-width="1.15"/>
<line x1="329.6" y1="764.0" x2="330.8" y2="760.0" stroke-width="1.15"/>
<line x1="332.4" y1="763.0" x2="333.59999999999997" y2="759.0" stroke-width="1.15"/>
<line x1="335.2" y1="762.0" x2="336.4" y2="758.0" stroke-width="1.15"/>
<line x1="338.0" y1="761.0" x2="339.2" y2="757.0" stroke-width="1.15"/>
<line x1="340.8" y1="760.0" x2="342.0" y2="756.0" stroke-width="1.15"/>
<ellipse cx="292.6" cy="784.4" rx="21" ry="29.5" transform="rotate(-37 292.6 784.4)" stroke-width="2.1" fill="#fff"/>
<ellipse cx="287.8" cy="790.2" rx="21" ry="29.5" transform="rotate(-37 287.8 790.2)" stroke-width="2.1" fill="#fff"/>
<ellipse cx="282.2" cy="792.6" rx="14.5" ry="18" transform="rotate(-37 282.2 792.6)" stroke-width="2.07" fill="none"/>
<ellipse cx="281.2" cy="793.9" rx="6.8" ry="8.8" transform="rotate(-37 281.2 793.9)" stroke-width="2.07" fill="none"/>
<line x1="337.3" y1="599.3" x2="354.4" y2="646.3" stroke-width="2.07"/>
<line x1="255.2" y1="653.7" x2="285" y2="703.9" stroke-width="2.07"/>
<line x1="235" y1="709.2" x2="274.4" y2="759.3" stroke-width="2.07"/>
<path d="M192.5,1121.7 C192.6,1124.5 192.1,1133.0 193.0,1138.7 C193.9,1144.4 195.7,1150.5 198.1,1155.7 C200.5,1160.9 204.1,1166.2 207.2,1169.8 C210.3,1173.4 213.3,1175.6 216.8,1177.2 C220.3,1178.8 224.4,1179.8 228.2,1179.5 C232.0,1179.2 236.2,1177.1 239.5,1175.5 C242.8,1173.9 245.8,1172.6 248.0,1169.8 C250.2,1167.0 251.6,1162.3 252.5,1158.5 C253.4,1154.7 253.9,1150.7 253.7,1147.2 C253.5,1143.7 252.4,1140.4 251.4,1137.5 C250.4,1134.6 248.1,1130.9 247.4,1129.6" stroke-width="2.18" fill="none"/>
<path d="M205.5,1116.0 C205.4,1117.9 204.6,1123.0 204.9,1127.3 C205.2,1131.5 206.0,1137.2 207.2,1141.5 C208.4,1145.8 210.0,1149.2 212.3,1152.8 C214.6,1156.4 217.9,1160.3 220.8,1163.0 C223.7,1165.7 226.9,1167.6 229.9,1168.7 C232.9,1169.8 237.0,1171.0 238.9,1169.8 C240.8,1168.6 240.9,1164.1 241.2,1161.3 C241.5,1158.5 241.3,1155.8 240.6,1152.8 C239.9,1149.8 238.3,1145.8 237.2,1143.2 C236.1,1140.6 234.4,1138.0 233.8,1137.0" stroke-width="2.18" fill="none"/>
<path d="M238.9,1169.8 L239.5,1175.5" stroke-width="1.84" fill="none"/>
<path d="M191.9,1121.7 L191.9,1103.5 L198.7,1099 L199.3,1095.6 L202.7,1084.8 L204.4,1087.1 L204.4,1114.9" stroke-width="2.07" fill="none"/>
<path d="M205.5,1086.5 L219.7,1078.6 L220.2,1074.6 L223.6,1076.3 L223.6,1089.4" stroke-width="2.07" fill="none"/>
<path d="M204.4,1114.9 L214,1110.9" stroke-width="2.07" fill="none"/>
<path d="M191.9,1121.7 C196,1118.5 200,1116.5 204.4,1115.5" stroke-width="2.76" fill="none"/>
<path d="M190.5,1090 C189.5,1086 190,1081 193,1078.5 C195,1077.3 198,1077.3 200,1078.5 L202.5,1080 L200.4,1093.3 L196,1092 C193,1091.5 191.5,1091 190.5,1090 Z" stroke-width="1.84" fill="none"/>
<line x1="190.5" y1="1083" x2="200.5" y2="1086" stroke-width="1.49"/>
<ellipse cx="212.6" cy="1094.5" rx="3.2" ry="4.4" transform="rotate(-30 212.6 1094.5)" stroke-width="1.72" fill="none"/>
<path d="M215.1,1097.3 L234.4,1084.3 L239.5,1087.7 L249.1,1116 L249.1,1127.3 L246.9,1128.5 L231,1136.4 L229.9,1137.5 L215.1,1121.1 Z" stroke-width="2.07" fill="none"/>
<line x1="234.4" y1="1086.5" x2="235" y2="1093.3" stroke-width="1.72"/>
<line x1="235.5" y1="1111.5" x2="248" y2="1124.5" stroke-width="1.72"/>
<line x1="225.3" y1="1114.9" x2="229.9" y2="1137.5" stroke-width="1.72"/>
<path d="M221.9,1099 L229.9,1093.9 L237.2,1099 L237.8,1106.9 L226.5,1114.3 L223.1,1104.7 Z" stroke-width="1.84" fill="none"/>
<line x1="223.1" y1="1104.7" x2="230.5" y2="1100" stroke-width="1.49"/>
<line x1="230.5" y1="1100" x2="237.2" y2="1099" stroke-width="1.49"/>
<ellipse cx="229.5" cy="1106.5" rx="2.2" ry="3.4" transform="rotate(25 229.5 1106.5)" stroke-width="1.49" fill="none"/>
<line x1="245.5" y1="1170.4" x2="277.2" y2="1203" stroke-width="2.07"/>
<line x1="318.3" y1="1125.6" x2="348.1" y2="1161" stroke-width="2.07"/>
<ellipse cx="282.8" cy="1107.9" rx="22.5" ry="30.5" transform="rotate(-22 282.8 1107.9)" stroke-width="2.07" fill="none"/>
<ellipse cx="282.5" cy="1109" rx="17.5" ry="25.5" transform="rotate(-22 282.5 1109)" stroke-width="2.07" fill="none"/>
<path d="M268.8,1077 L298.7,1063 C308,1061 316,1065 319.2,1070.5 C326,1080 331,1090 332.3,1098.5 C333,1104 333,1108 332.3,1111.6 C330,1118 325,1122 317.3,1125.6 L293,1136.8" stroke-width="2.07" fill="none"/>
<path d="M525.6,1132.1 C524.4,1131.4 519.5,1129.7 518.2,1128.2 C516.9,1126.8 517.4,1125.4 517.6,1123.4 C517.8,1121.5 518.5,1118.7 519.5,1116.5 C520.5,1114.3 522.3,1111.8 523.9,1110.4 C525.5,1109.1 527.3,1108.3 529.1,1108.4 C530.9,1108.5 533.6,1110.1 534.7,1110.8 C535.9,1111.5 535.8,1112.3 536.0,1112.6" stroke-width="2.07" fill="none"/>
<line x1="526.5" y1="1110.8" x2="534.3" y2="1113.9" stroke-width="1.84"/>
<line x1="517.8" y1="1123.8" x2="526" y2="1126.9" stroke-width="1.84"/>
<path d="M526.5,1132.1 C526.8,1133.0 527.2,1136.1 528.2,1137.3 C529.2,1138.5 530.9,1139.1 532.5,1139.0 C534.1,1138.9 536.5,1137.3 537.7,1136.8 C538.9,1136.3 539.5,1136.1 539.9,1136.0" stroke-width="2.07" fill="none"/>
<path d="M526.5,1132.1 C526.5,1130.9 525.9,1127.3 526.3,1125.0 C526.6,1122.7 527.3,1120.1 528.6,1118.2 C529.9,1116.3 532.2,1114.5 534.3,1113.4 C536.4,1112.3 539.2,1111.6 541.2,1111.7 C543.2,1111.8 544.9,1112.8 546.0,1113.9 C547.1,1115.0 547.5,1116.8 547.7,1118.2 C547.9,1119.6 547.4,1121.4 547.3,1122.1" stroke-width="2.07" fill="none"/>
<path d="M535.0,1134.5 C534.6,1133.8 532.8,1132.1 532.5,1130.3 C532.2,1128.5 532.3,1125.5 533.0,1123.8 C533.7,1122.1 535.5,1120.5 536.9,1119.9 C538.3,1119.3 540.0,1120.0 541.2,1120.4 C542.4,1120.8 543.7,1122.2 544.2,1122.5" stroke-width="2.07" fill="none"/>
<line x1="546.8" y1="1123.4" x2="565" y2="1133.4" stroke-width="2.07"/>
<line x1="539.9" y1="1136" x2="559" y2="1145.9" stroke-width="2.07"/>
<ellipse cx="562" cy="1139.4" rx="4.6" ry="7.3" transform="rotate(28 562 1139.4)" stroke-width="2.07" fill="none"/>
<path d="M547.5,1125.0 C544.5,1127.5 543.9,1133.0 545.0,1136.0" stroke-width="1.84" fill="none"/>
<path d="M552.5,1127.6 C549.5,1130.1 548.9,1135.6 550.0,1138.6" stroke-width="1.84" fill="none"/>
<path d="M557.5,1130.2 C554.5,1132.7 553.9,1138.2 555.0,1141.2" stroke-width="1.84" fill="none"/>
<line x1="532" y1="1141.4" x2="525.8" y2="1182.8" stroke-width="2.07"/>
<path d="M1263,821 C1266,819 1270,819.5 1273,821 L1289,829 M1263,821 C1261,824 1260.5,829 1261,833 L1279,843" stroke-width="2.07" fill="none"/>
<ellipse cx="1297.4" cy="846.4" rx="17.5" ry="24" transform="rotate(20 1297.4 846.4)" stroke-width="2.07" fill="none"/>
<ellipse cx="1294" cy="848" rx="15.5" ry="23" transform="rotate(20 1294 848)" stroke-width="1.84" fill="none"/>
<ellipse cx="1299" cy="847.5" rx="5" ry="8.5" transform="rotate(20 1299 847.5)" stroke-width="2.07" fill="none"/>
<line x1="1287.8" y1="870" x2="1278.8" y2="922.8" stroke-width="2.07"/>
<path d="M499.8,1486.0 C499.6,1485.5 498.7,1484.2 498.6,1483.0 C498.6,1481.8 498.9,1479.9 499.5,1478.5 C500.1,1477.1 501.0,1476.1 502.5,1474.6 C504.0,1473.1 506.5,1470.6 508.5,1469.5 C510.5,1468.4 512.8,1468.0 514.5,1468.0 C516.2,1468.0 517.5,1468.5 519.0,1469.2 C520.5,1470.0 522.2,1471.3 523.2,1472.5 C524.2,1473.7 524.6,1475.1 524.7,1476.4 C524.9,1477.8 524.7,1479.5 524.1,1480.6 C523.5,1481.6 521.9,1482.3 521.4,1482.7" stroke-width="2.07" fill="none"/>
<path d="M499.8,1486.0 C500.5,1486.7 502.6,1489.2 504.0,1490.2 C505.4,1491.2 506.8,1491.8 508.5,1492.0 C510.2,1492.2 513.5,1491.5 514.5,1491.4" stroke-width="2.07" fill="none"/>
<path d="M519.0,1471.9 C518.3,1472.2 516.2,1473.0 515.0,1474.0 C513.8,1475.0 512.6,1476.5 511.5,1477.6 C510.4,1478.7 509.2,1479.6 508.5,1480.5 C507.8,1481.4 507.4,1481.7 507.0,1483.0 C506.6,1484.3 506.1,1487.2 506.4,1488.4 C506.6,1489.7 508.1,1490.2 508.5,1490.5" stroke-width="2.07" fill="none"/>
<path d="M521.4,1482.7 C520.9,1482.4 519.4,1481.2 518.5,1480.8 C517.6,1480.4 516.8,1480.3 516.0,1480.6 C515.2,1480.9 514.1,1481.7 513.5,1482.5 C512.9,1483.3 512.3,1484.2 512.4,1485.4 C512.5,1486.6 513.9,1488.9 514.2,1489.6" stroke-width="2.07" fill="none"/>
<line x1="523.2" y1="1481.5" x2="532.5" y2="1491.4" stroke-width="2.07"/>
<line x1="514.5" y1="1491.4" x2="524.7" y2="1500.1" stroke-width="2.07"/>
<ellipse cx="528.6" cy="1495.8" rx="3.6" ry="5.8" transform="rotate(42 528.6 1495.8)" stroke-width="2.07" fill="none"/>
<path d="M521.5,1486.5 C519.3,1487.5 518.0,1490.0 518.3,1492.5" stroke-width="1.84" fill="none"/>
<path d="M525.1,1489.9 C522.9,1490.9 521.6,1493.4 521.9,1495.9" stroke-width="1.84" fill="none"/>
<line x1="548.8" y1="1414.3" x2="521.2" y2="1469.5" stroke-width="2.07"/>
<ellipse cx="541.2" cy="1508.6" rx="11" ry="9" transform="rotate(-35 541.2 1508.6)" stroke-width="1.84" fill="none"/>
<ellipse cx="541.2" cy="1508.6" rx="4" ry="3.2" transform="rotate(-35 541.2 1508.6)" stroke-width="1.72" fill="none"/>
<line x1="588.7" y1="1457.3" x2="548.8" y2="1500.2" stroke-width="2.07"/>
<line x1="550.3" y1="1515.5" x2="564.1" y2="1530.8" stroke-width="2.07"/>
<ellipse cx="606.8" cy="1576.8" rx="8.5" ry="10.5" transform="rotate(30 606.8 1576.8)" stroke-width="1.84" fill="none"/>
<ellipse cx="606.8" cy="1576.8" rx="3.2" ry="4" transform="rotate(30 606.8 1576.8)" stroke-width="1.72" fill="none"/>
<line x1="645.4" y1="1512.5" x2="619.3" y2="1560" stroke-width="2.07"/>
<line x1="581.6" y1="1550.4" x2="600.8" y2="1569.6" stroke-width="1.84"/>
<path d="M291.6,1682.2 C296,1670 305,1652 318,1642.6 C328,1636 340,1632 351,1629.4 C365,1626.5 380,1624.5 395,1622.8 C415,1620 435,1616.5 452.2,1612.9 C463,1610 473,1604 483,1598.6 C498,1590 512,1580 527,1570 C542,1558 556,1544 571,1532.6 C578,1527.5 585,1524 593,1523.8 C598,1524 602,1526.5 604,1530.4 C606,1534 606.8,1539 606.2,1543.6 C605,1549 603,1554 599.6,1559 C592,1566 585,1574 577.6,1581 C565,1593 552,1605 538,1616.2 C527,1624 516,1632 505,1638.2 C494,1643.5 483,1648 472,1651.4 C461,1654.5 450,1657.5 439,1660.2 C424,1663.3 410,1666 395,1669 C380,1672.5 366,1676 351,1680 C340,1683 329,1686 318,1688.8 C311,1690.5 305,1692.5 300.4,1694.3 C296,1691 293,1687 291.6,1682.2 Z" stroke-width="2.30" fill="none"/>
<path d="M309.2,1673.4 C312,1665 316,1658 322.4,1653.6 C328,1649 334,1646.5 340,1644.8 C358,1640 376,1636.5 395,1633.8 C414,1631 433,1628 452.2,1625 C463,1622.5 473,1620 483,1616.2 C498,1608 512,1598 527,1587.6 C542,1576 557,1564 571,1552.4 C577,1546 582,1539 588.6,1534.8 C592,1532.5 596,1531.5 599.6,1532.6 C602,1535 602.5,1539.5 601.8,1543.6 C600,1549 597,1554 593,1559 C586,1565 578.5,1571 571,1576.6 C556,1588 541,1600 527,1611.8 C516,1620 505,1630 494,1638.2 C483,1643 472,1646.5 461,1649.2 C446,1653 432,1657 417,1660.2 C402,1663.2 388,1666 373,1669 C358,1672 343.5,1675 329,1677.8 C320,1678 313,1677 309.2,1673.4 Z" stroke-width="1.84" fill="none"/>
<path d="M335.6,1649.2 C338,1646 342,1643.5 346.6,1642.6 C362,1640 378,1638 395,1636 C413,1633.5 430,1631 447.8,1628.3 C453,1629 456.5,1632 456.6,1635 C455,1638.5 452,1640.5 447.8,1641.5 C430,1644.5 413,1647 395,1649.2 C377,1651.5 360,1654 342.2,1655.8 C338.5,1655.8 336,1655 334.5,1653.6 C333.8,1652 334.3,1650.5 335.6,1649.2 Z" stroke-width="1.84" fill="none"/>
<path d="M324.6,1669 C327.5,1666.5 331,1665.3 335.6,1664.6 C355,1662 375,1660 395,1658 C415,1655.5 435,1651 454.4,1647 C458,1646.8 460.5,1648.7 461,1651.4 C459.5,1653.8 456,1655 452.2,1655.8 C433,1659.5 414,1663.5 395,1666.8 C376,1670 357,1673.5 337.8,1676.7 C332,1677 327,1676 324.6,1673.4 C323.8,1671.8 323.8,1670.3 324.6,1669 Z" stroke-width="1.84" fill="none"/>
<path d="M489.6,1625 C490,1622 491.5,1620 494,1618.4 C509,1608 523,1598 538,1587.6 C549,1580 560,1571.5 571,1563.4 C573,1563.5 574,1566 573.2,1568.9 C562,1577 551,1585.5 540.2,1594.2 C526,1605 511,1616 496.2,1627.2 C493,1628.5 490.5,1627.5 489.6,1625 Z" stroke-width="1.72" fill="none"/>
<path d="M489.6,1633.8 C506,1622 523,1610 540.2,1598.6 C552,1589 563.5,1579.5 575.4,1570" stroke-width="1.72" fill="none"/>
<path d="M343,1642 C346,1639 348,1638 350,1638.3" stroke-width="1.49" fill="none"/>
<ellipse cx="318" cy="1664.6" rx="5.2" ry="6.5" transform="rotate(-35 318 1664.6)" stroke-width="1.72" fill="none"/>
<ellipse cx="318.5" cy="1664.2" rx="2.2" ry="2.8" transform="rotate(-35 318.5 1664.2)" stroke-width="1.49" fill="none"/>
<path d="M461,1628 C462,1623 466,1621.5 471,1622 C476,1622.5 479,1626 478.5,1630 C478,1634 474,1637 469,1636.8 C465,1636.5 461.5,1633 461,1628 Z" stroke-width="1.72" fill="none"/>
<ellipse cx="470" cy="1629.4" rx="3" ry="2.2" transform="rotate(-20 470 1629.4)" stroke-width="1.49" fill="none"/>
<line x1="488" y1="1619" x2="489" y2="1627" stroke-width="1.61"/>
<ellipse cx="580.9" cy="1549.1" rx="14.5" ry="10" transform="rotate(-50 580.9 1549.1)" stroke-width="1.72" fill="none"/>
<ellipse cx="580.9" cy="1549.1" rx="5.5" ry="4.2" transform="rotate(-40 580.9 1549.1)" stroke-width="1.61" fill="none"/>
<ellipse cx="580.9" cy="1549.1" rx="2" ry="1.6" transform="rotate(0 580.9 1549.1)" stroke-width="1.38" fill="none"/>
<line x1="431.6" y1="1549.2" x2="454.4" y2="1611.6" stroke-width="2.07"/>
<path d="M756,1513.9 C763,1512 770,1513 775.2,1517 C781,1522 785,1528 786.9,1534.1 C789,1541 789.5,1546 789.1,1551.2 C788.5,1555 786.5,1558.5 783.7,1560.8" stroke-width="2.30" fill="none"/>
<path d="M756,1513.9 C748,1516 740,1519.5 732.5,1523.5 C722,1529 712,1536 702.7,1542.7 C697,1546 692,1549.5 687.7,1553.3 C673,1566 660,1579 649.3,1591.7" stroke-width="2.30" fill="none"/>
<path d="M783.7,1560.8 C770,1569 755,1578 741,1587.5 C731,1593 722,1598.5 713.3,1604.5 C703,1612 694,1620 685.6,1629" stroke-width="2.30" fill="none"/>
<line x1="791.2" y1="1525.6" x2="820" y2="1508.5" stroke-width="2.07"/>
<line x1="742.1" y1="1589.6" x2="765.6" y2="1651.5" stroke-width="2.07"/>
<path d="M636,1595 C645,1592 655,1594 662,1598 C670,1603 676,1611 679.2,1619.5 L683.5,1628" stroke-width="2.07" fill="none"/>
<path d="M628,1606.7 C636,1605 645,1609 651,1614 C658,1620 664,1630 668.5,1645 L670.7,1653.6" stroke-width="2.07" fill="none"/>
<path d="M615,1604 L613,1596 L627,1584.5 L633,1585 L636.5,1595 L628,1601 Z" stroke-width="1.84" fill="none"/>
<ellipse cx="620" cy="1596" rx="2.2" ry="2.6" transform="rotate(0 620 1596)" stroke-width="1.49" fill="none"/>
<path d="M683.5,1628 C680,1629 677.5,1631 677,1634 L673.9,1649.3 C673,1656 671.8,1661 670.7,1666.4 C660,1680 640,1695 619.5,1709.1" stroke-width="2.07" fill="none"/>
<path d="M680,1633 L676.5,1637 L672.5,1650 C671,1658 670,1662 668,1665 C657,1679 638,1693 618,1706" stroke-width="1.38" fill="none"/>
<line x1="615.2" y1="1607.7" x2="551.2" y2="1657.9" stroke-width="2.07"/>
<path d="M553.3,1658.9 C565,1660 575,1666 583.2,1672.8 C590,1679 596,1684 600.3,1689.9 C604,1696 606,1701 606.7,1706.9 L607.5,1712" stroke-width="2.07" fill="none"/>
<path d="M537.3,1684.5 C543,1686 549,1689 553.3,1694.1 C558,1699 561.5,1704 564,1709.1 C567,1716 569,1723 570.4,1730.4" stroke-width="2.07" fill="none"/>
<path d="M527,1683 L524.5,1672 L538,1655 L546,1654.7 L551.2,1658 L547,1678 Z" stroke-width="1.84" fill="none"/>
<ellipse cx="532" cy="1665" rx="2.5" ry="3" transform="rotate(0 532 1665)" stroke-width="1.49" fill="none"/>
<path d="M528.8,1689.6 C510,1697 490,1704 468.8,1708.8 C440,1715 410,1719 384.8,1725.6 C374,1729 364,1733 356,1737.6 C345,1745 337,1750 332,1756.8 C325,1765 322,1775 323.6,1783.2 C325,1791 328,1797 332,1802.4 C338,1810 346,1815 356,1819.2 C368,1823 380,1825.5 394.4,1826.4 C413,1827 433,1826 452,1824 C468,1822 484,1818 500,1814.4 C516,1810 532,1805 548,1800 C558,1797 569,1792.5 579.2,1788" stroke-width="2.30" fill="none"/>
<path d="M354,1740 L352,1735 C355,1732 359,1731 362,1733" stroke-width="1.72" fill="none"/>
<path d="M368,1758 C373,1763 378,1767 384.8,1768.8 C398,1771.5 413,1772 428,1771.2 C444,1770 460,1768.5 476,1766.4 C492,1764 508,1759.5 524,1754.4 C540,1749 555,1742 569.6,1735.2" stroke-width="2.07" fill="none"/>
<path d="M520,1757.5 C538,1752 553,1745 570,1737" stroke-width="1.38" fill="none"/>
<path d="M500,1814 C525,1808 555,1797 579,1788" stroke-width="1.38" fill="none"/>
<path d="M572.0,1731.7 C572.0,1730.2 571.9,1725.5 572.0,1723.0 C572.1,1720.5 571.6,1718.9 572.7,1717.0 C573.8,1715.1 576.4,1712.8 578.7,1711.7 C581.0,1710.6 584.5,1710.1 586.7,1710.3 C588.9,1710.5 590.1,1711.9 592.0,1713.0 C593.9,1714.1 595.5,1714.7 598.0,1717.0 C600.5,1719.3 603.6,1723.5 606.7,1727.0 C609.8,1730.5 613.9,1734.6 616.7,1737.7 C619.5,1740.8 621.8,1742.8 623.3,1745.7 C624.8,1748.6 625.5,1751.2 626.0,1755.0 C626.5,1758.8 626.2,1764.4 626.0,1768.3 C625.8,1772.2 625.7,1775.5 624.7,1778.3 C623.7,1781.1 621.9,1783.3 620.0,1785.0 C618.1,1786.7 615.3,1788.0 613.3,1788.3 C611.3,1788.6 610.0,1788.3 608.0,1787.0 C606.0,1785.7 602.4,1781.4 601.3,1780.3" stroke-width="2.18" fill="none"/>
<path d="M580.7,1714.3 C581.9,1715.3 585.5,1718.0 588.0,1720.3 C590.5,1722.6 593.1,1725.2 596.0,1728.3 C598.9,1731.4 602.6,1735.7 605.3,1739.0 C608.0,1742.3 610.3,1745.1 612.0,1748.3 C613.7,1751.5 614.5,1755.0 615.3,1758.3 C616.1,1761.6 616.6,1764.4 616.7,1768.3 C616.8,1772.2 616.3,1778.6 616.0,1781.7 C615.7,1784.8 614.9,1786.1 614.7,1787.0" stroke-width="2.07" fill="none"/>
<path d="M560,1739 L582,1729 C587,1734 591,1741 595,1747 L600,1753.7" stroke-width="2.07" fill="none"/>
<path d="M604.7,1774.3 L586,1785.7 M578.7,1789 L566,1795" stroke-width="2.07" fill="none"/>
<line x1="604" y1="1764.3" x2="604" y2="1773.7" stroke-width="1.84"/>
<line x1="597.3" y1="1716.3" x2="615.3" y2="1709.7" stroke-width="2.07"/>
<path d="M615.3,1709.7 C615.9,1709.8 617.2,1709.6 618.7,1710.3 C620.2,1711.0 622.1,1711.8 624.0,1713.7 C625.9,1715.6 627.9,1718.6 630.0,1721.7 C632.1,1724.8 634.8,1728.5 636.7,1732.3 C638.6,1736.1 640.4,1740.7 641.3,1744.3 C642.2,1747.9 642.2,1751.5 642.0,1753.7 C641.8,1755.9 640.3,1757.0 640.0,1757.7" stroke-width="2.07" fill="none"/>
<line x1="640" y1="1757.7" x2="626.7" y2="1764.3" stroke-width="2.07"/>
<path d="M599.3,1717.7 C600.5,1719.2 603.9,1723.7 606.7,1727.0 C609.5,1730.3 613.5,1734.6 616.0,1737.7 C618.5,1740.8 620.5,1742.8 622.0,1745.7 C623.5,1748.6 624.8,1753.5 625.3,1755.0" stroke-width="1.84" fill="none"/>
<ellipse cx="607.7" cy="1757" rx="2.8" ry="5.5" transform="rotate(-25 607.7 1757)" stroke-width="1.84" fill="none"/>
<line x1="638.7" y1="1725" x2="667.5" y2="1712.3" stroke-width="2.07"/>
<ellipse cx="679.7" cy="1706.4" rx="14.5" ry="29.5" transform="rotate(-28 679.7 1706.4)" stroke-width="2.07" fill="none"/>
<ellipse cx="679.5" cy="1706.2" rx="10.5" ry="25" transform="rotate(-28 679.5 1706.2)" stroke-width="1.84" fill="none"/>
<ellipse cx="679.3" cy="1706" rx="8" ry="22" transform="rotate(-28 679.3 1706)" stroke-width="1.61" fill="none"/>
<line x1="693.1" y1="1731.5" x2="709.1" y2="1790.1" stroke-width="2.07"/>
<line x1="607" y1="1757.5" x2="578" y2="1771" stroke-width="1.84"/>
<polyline points="578,1771 582.5,1790 586,1817" stroke-width="1.6" stroke-dasharray="14 4 5 4"/>
<line x1="588.5" y1="1816.8" x2="562.4" y2="1830" stroke-width="1.84"/>
<path d="M530.2,1836.8 C529.6,1836.2 527.6,1834.4 526.5,1833.5 C525.4,1832.6 524.7,1832.0 523.8,1831.6 C522.9,1831.2 521.9,1831.0 521.0,1831.2 C520.1,1831.4 519.2,1831.9 518.6,1832.5 C518.0,1833.1 517.9,1834.1 517.6,1835.0 C517.3,1835.9 517.7,1837.3 517.0,1838.0 C516.3,1838.7 514.5,1838.5 513.5,1839.0 C512.5,1839.5 511.8,1840.1 511.2,1841.0 C510.6,1841.9 509.8,1843.0 509.6,1844.5 C509.4,1846.0 509.8,1848.3 510.2,1850.0 C510.6,1851.7 511.3,1853.2 512.0,1854.5 C512.7,1855.8 513.4,1856.6 514.2,1857.6 C515.0,1858.6 516.0,1859.6 517.0,1860.3 C518.0,1861.0 519.7,1861.7 520.2,1862.0" stroke-width="2.07" fill="none"/>
<path d="M520.2,1862 L523,1860.8 L531,1860 L533,1861.6 L535.4,1860 C536.5,1858 536.8,1856.5 536.6,1855.2 L536.6,1849.6" stroke-width="2.07" fill="none"/>
<path d="M516.2,1841.6 L523.8,1839.6 L527.4,1845.6 L529.8,1853.2 L522.6,1855.2 L518.6,1845.6 Z" stroke-width="1.84" fill="none"/>
<line x1="522.6" y1="1855.2" x2="521.8" y2="1861.6" stroke-width="1.84"/>
<line x1="529.8" y1="1853.2" x2="531" y2="1860" stroke-width="1.84"/>
<path d="M524.2,1836.8 C524.8,1837.2 526.9,1838.1 528.0,1839.0 C529.1,1839.9 529.9,1841.2 530.6,1842.4 C531.3,1843.6 531.8,1844.7 532.2,1846.0 C532.6,1847.3 532.8,1849.0 533.0,1850.4 C533.2,1851.8 533.3,1853.2 533.4,1854.5 C533.5,1855.8 533.4,1857.8 533.4,1858.4" stroke-width="1.84" fill="none"/>
<line x1="530.2" y1="1836.8" x2="553" y2="1826.8" stroke-width="2.07"/>
<line x1="536.6" y1="1849.6" x2="558.2" y2="1840" stroke-width="2.07"/>
<ellipse cx="556" cy="1833.4" rx="3.6" ry="7.2" transform="rotate(-22 556 1833.4)" stroke-width="2.07" fill="none"/>
<path d="M532.5,1836.5 C534.3,1839.5 534.9,1844.5 534.3,1848.5" stroke-width="1.84" fill="none"/>
<path d="M536.9,1834.55 C538.6999999999999,1837.55 539.3,1842.55 538.6999999999999,1846.55" stroke-width="1.84" fill="none"/>
<path d="M541.3,1832.6 C543.0999999999999,1835.6 543.6999999999999,1840.6 543.0999999999999,1844.6" stroke-width="1.84" fill="none"/>
<path d="M545.7,1830.65 C547.5,1833.65 548.1,1838.65 547.5,1842.65" stroke-width="1.84" fill="none"/>
<path d="M550.1,1828.7 C551.9,1831.7 552.5,1836.7 551.9,1840.7" stroke-width="1.84" fill="none"/>
<line x1="512.4" y1="1858.3" x2="494" y2="1916.5" stroke-width="2.07"/>
<polygon points="129.9,1880.2 153.4,1836.9 160,1841.3 205.1,1816.4 212.8,1819.3 212.8,1854.9 160,1884.2 160,1895.6" stroke-width="3.22"/>
<line x1="156.7" y1="1841.3" x2="135.8" y2="1880.9" stroke-width="1.84"/>
<line x1="160" y1="1849" x2="209.1" y2="1822.2" stroke-width="1.84"/>
<line x1="209.1" y1="1822.2" x2="212.8" y2="1819.3" stroke-width="1.84"/>
<line x1="209.1" y1="1822.2" x2="209.1" y2="1855" stroke-width="1.38"/>
<line x1="160" y1="1841.3" x2="160" y2="1849" stroke-width="2.76"/>
</g>
<g font-family="Liberation Sans, sans-serif" fill="#000" stroke="#000" stroke-width="0.15">
<text transform="translate(158.8 1878.3) skewY(-29.2) scale(0.66 1)" font-weight="bold" font-size="32" stroke-width="1.1">FWD</text>
<path transform="translate(606.8 130)" d="M8.6,0 L12.3,0 L12.3,-20 L9.4,-20 C8.6,-17.6 6,-15.8 2.3,-15.2 L2.3,-12.8 C4.8,-13 7,-13.8 8.6,-15.2 Z" stroke="none"/>
<text transform="translate(625.5 130) scale(1.2 1)" font-size="28">5</text>
<path transform="translate(406.8 226)" d="M8.6,0 L12.3,0 L12.3,-20 L9.4,-20 C8.6,-17.6 6,-15.8 2.3,-15.2 L2.3,-12.8 C4.8,-13 7,-13.8 8.6,-15.2 Z" stroke="none"/>
<text transform="translate(425.5 226) scale(1.2 1)" font-size="28">9</text>
<text transform="translate(478.8 277) scale(1.2 1)" font-size="28">2</text>
<text transform="translate(497.5 277) scale(1.2 1)" font-size="28">0</text>
<text transform="translate(445.7 328) scale(1.2 1)" font-size="28">7</text>
<path transform="translate(692.3 338.5)" d="M8.6,0 L12.3,0 L12.3,-20 L9.4,-20 C8.6,-17.6 6,-15.8 2.3,-15.2 L2.3,-12.8 C4.8,-13 7,-13.8 8.6,-15.2 Z" stroke="none"/>
<text transform="translate(711.0 338.5) scale(1.2 1)" font-size="28">3</text>
<path transform="translate(586.3 369)" d="M8.6,0 L12.3,0 L12.3,-20 L9.4,-20 C8.6,-17.6 6,-15.8 2.3,-15.2 L2.3,-12.8 C4.8,-13 7,-13.8 8.6,-15.2 Z" stroke="none"/>
<text transform="translate(605.0 369) scale(1.2 1)" font-size="28">2</text>
<path transform="translate(519.8 406.7)" d="M8.6,0 L12.3,0 L12.3,-20 L9.4,-20 C8.6,-17.6 6,-15.8 2.3,-15.2 L2.3,-12.8 C4.8,-13 7,-13.8 8.6,-15.2 Z" stroke="none"/>
<path transform="translate(538.5 406.7)" d="M8.6,0 L12.3,0 L12.3,-20 L9.4,-20 C8.6,-17.6 6,-15.8 2.3,-15.2 L2.3,-12.8 C4.8,-13 7,-13.8 8.6,-15.2 Z" stroke="none"/>
<text transform="translate(438.7 535.7) scale(1.2 1)" font-size="28">9</text>
<path transform="translate(317.3 594)" d="M8.6,0 L12.3,0 L12.3,-20 L9.4,-20 C8.6,-17.6 6,-15.8 2.3,-15.2 L2.3,-12.8 C4.8,-13 7,-13.8 8.6,-15.2 Z" stroke="none"/>
<text transform="translate(336.0 594) scale(1.2 1)" font-size="28">0</text>
<path transform="translate(235.3 647.3)" d="M8.6,0 L12.3,0 L12.3,-20 L9.4,-20 C8.6,-17.6 6,-15.8 2.3,-15.2 L2.3,-12.8 C4.8,-13 7,-13.8 8.6,-15.2 Z" stroke="none"/>
<text transform="translate(254.0 647.3) scale(1.2 1)" font-size="28">0</text>
<text transform="translate(218.2 706) scale(1.2 1)" font-size="28">8</text>
<path transform="translate(1259.8 949)" d="M8.6,0 L12.3,0 L12.3,-20 L9.4,-20 C8.6,-17.6 6,-15.8 2.3,-15.2 L2.3,-12.8 C4.8,-13 7,-13.8 8.6,-15.2 Z" stroke="none"/>
<text transform="translate(1278.5 949) scale(1.2 1)" font-size="28">6</text>
<path transform="translate(332.3 1188.1)" d="M8.6,0 L12.3,0 L12.3,-20 L9.4,-20 C8.6,-17.6 6,-15.8 2.3,-15.2 L2.3,-12.8 C4.8,-13 7,-13.8 8.6,-15.2 Z" stroke="none"/>
<text transform="translate(351.0 1188.1) scale(1.2 1)" font-size="28">4</text>
<path transform="translate(259.8 1230.1)" d="M8.6,0 L12.3,0 L12.3,-20 L9.4,-20 C8.6,-17.6 6,-15.8 2.3,-15.2 L2.3,-12.8 C4.8,-13 7,-13.8 8.6,-15.2 Z" stroke="none"/>
<text transform="translate(278.5 1230.1) scale(1.2 1)" font-size="28">7</text>
<path transform="translate(507.3 1207.3)" d="M8.6,0 L12.3,0 L12.3,-20 L9.4,-20 C8.6,-17.6 6,-15.8 2.3,-15.2 L2.3,-12.8 C4.8,-13 7,-13.8 8.6,-15.2 Z" stroke="none"/>
<text transform="translate(526.0 1207.3) scale(1.2 1)" font-size="28">8</text>
<text transform="translate(545.2 1409.7) scale(1.2 1)" font-size="28">4</text>
<text transform="translate(587.9 1455.7) scale(1.2 1)" font-size="28">3</text>
<text transform="translate(638.2 1507.8) scale(1.2 1)" font-size="28">3</text>
<text transform="translate(421.2 1543.2) scale(1.2 1)" font-size="28">2</text>
<path transform="translate(758.7 1678.1)" d="M8.6,0 L12.3,0 L12.3,-20 L9.4,-20 C8.6,-17.6 6,-15.8 2.3,-15.2 L2.3,-12.8 C4.8,-13 7,-13.8 8.6,-15.2 Z" stroke="none"/>
<text transform="translate(702.2 1814.7) scale(1.2 1)" font-size="28">5</text>
<text transform="translate(484.2 1939.5) scale(1.2 1)" font-size="28">6</text>
</g>
<g font-family="Liberation Sans, sans-serif" fill="#000">
<path d="M135.2,1933.6 L138.2,1933.6 L138.2,1910.9 L135.8,1910.9 C134.9,1914.7 132.3,1916.6 129.4,1917.3 L129.4,1919.7 C132.3,1919.1 134.4,1916.2 135.2,1916.2 Z" stroke="none"/>
<text x="155.4" y="1933.6" font-size="33" text-anchor="middle">D</text>
<text x="177.8" y="1933.6" font-size="33" text-anchor="middle">X</text>
<text x="197.2" y="1933.6" font-size="33" text-anchor="middle">3</text>
<path d="M215.9,1933.6 L218.9,1933.6 L218.9,1910.9 L216.5,1910.9 C215.6,1914.7 213.7,1916.6 211.5,1917.3 L211.5,1919.7 C213.7,1919.1 215.1,1916.2 215.9,1916.2 Z" stroke="none"/>
<path d="M232.0,1933.6 L235.0,1933.6 L235.0,1910.9 L232.6,1910.9 C231.7,1914.7 229.8,1916.6 227.7,1917.3 L227.7,1919.7 C229.8,1919.1 231.2,1916.2 232.0,1916.2 Z" stroke="none"/>
<text x="250.0" y="1933.6" font-size="33" text-anchor="middle">0</text>
<text x="263.6" y="1933.6" font-size="33" text-anchor="middle">-</text>
<text x="279.4" y="1933.6" font-size="33" text-anchor="middle">L</text>
<path d="M300.3,1933.6 L303.3,1933.6 L303.3,1910.9 L300.9,1910.9 C300.0,1914.7 297.8,1916.6 295.2,1917.3 L295.2,1919.7 C297.8,1919.1 299.5,1916.2 300.3,1916.2 Z" stroke="none"/>
<path d="M314.8,1933.6 L317.8,1933.6 L317.8,1910.9 L315.4,1910.9 C314.5,1914.7 312.3,1916.6 309.8,1917.3 L309.8,1919.7 C312.3,1919.1 314.0,1916.2 314.8,1916.2 Z" stroke="none"/>
<text x="332.2" y="1933.6" font-size="33" text-anchor="middle">0</text>
<text x="63" y="2114.1" font-size="50" textLength="93" lengthAdjust="spacingAndGlyphs">©20</text>
<path d="M174.1,2114.1 L178.7,2114.1 L178.7,2078.7 L174.7,2078.7 C173.8,2084.6 168.4,2087.6 162.7,2088.6 L162.7,2092.3 C168.4,2091.4 173.3,2086.9 174.1,2086.9 Z" stroke="none"/>
<text x="186" y="2114.1" font-size="50" textLength="1246" lengthAdjust="spacingAndGlyphs">8 Yamaha Motor Corporation, U.S.A. All rights reserved.</text>
<text x="600.5" y="2126.3" font-size="26" textLength="299" lengthAdjust="spacingAndGlyphs">Rendered by LeadVenture, Inc.</text>
</g>
</svg>
</body></html>
